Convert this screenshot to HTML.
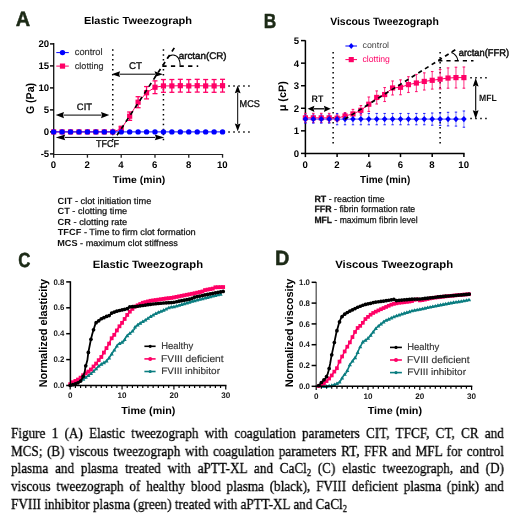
<!DOCTYPE html>
<html><head><meta charset="utf-8"><style>
html,body{margin:0;padding:0;background:#fff;}
body{width:520px;height:517px;position:relative;overflow:hidden;}
svg{position:absolute;left:0;top:0;will-change:transform;}
.cl{position:absolute;left:11.4px;font-family:"Liberation Serif",serif;font-size:15.6px;line-height:15px;color:#000;-webkit-text-stroke:0.3px #000;
transform:scaleX(0.8442307692307692);transform-origin:0 0;white-space:nowrap;will-change:transform;}
.cl.j{width:583.85px;text-align:justify;text-align-last:justify;white-space:normal;}
.cl sub{font-size:10px;line-height:0;vertical-align:-3px;}
</style></head><body>
<svg width="520" height="517" viewBox="0 0 520 517" text-rendering="geometricPrecision">
<text id="L_A" x="15.71" y="26" font-family="Liberation Sans" font-size="20.714" font-weight="bold" fill="#1c2a16" stroke="#1c2a16" stroke-width="0.5" stroke-linejoin="round" textLength="14.407" lengthAdjust="spacingAndGlyphs">A</text>
<text id="A_title" x="83.96" y="24.4" font-family="Liberation Sans" font-size="10.312" font-weight="bold" fill="#000" textLength="108.107" lengthAdjust="spacingAndGlyphs">Elastic Tweezograph</text>
<line x1="112.77" y1="49.15" x2="112.77" y2="141" stroke="#000" stroke-width="1.5" stroke-linecap="butt" stroke-dasharray="1.5 3.48"/>
<line x1="163.44" y1="49.15" x2="163.44" y2="141" stroke="#000" stroke-width="1.5" stroke-linecap="butt" stroke-dasharray="1.5 3.48"/>
<line x1="228.3" y1="85.92" x2="250" y2="85.92" stroke="#000" stroke-width="1.5" stroke-linecap="butt" stroke-dasharray="1.5 3.47"/>
<line x1="228.3" y1="131.9" x2="250" y2="131.9" stroke="#000" stroke-width="1.5" stroke-linecap="butt" stroke-dasharray="1.5 3.47"/>
<line x1="63.5" y1="115.1" x2="101.5" y2="115.1" stroke="#000" stroke-width="1" stroke-linecap="butt"/>
<polygon points="55.7,115.1 64,112 63,115.1 64,118.2" fill="#000"/>
<polygon points="109.3,115.1 101,112 102,115.1 101,118.2" fill="#000"/>
<text id="A_CIT" x="76.86" y="109.8" font-family="Liberation Sans" font-size="9.457" font-weight="normal" fill="#111" stroke="#111" stroke-width="0.35" stroke-linejoin="round" textLength="15.139" lengthAdjust="spacingAndGlyphs">CIT</text>
<line x1="119.6" y1="74.2" x2="155" y2="74.2" stroke="#000" stroke-width="1" stroke-linecap="butt"/>
<polygon points="111.6,74.2 120.1,71.3 119.08,74.2 120.1,77.1" fill="#000"/>
<polygon points="163,74.2 154.5,71.3 155.52,74.2 154.5,77.1" fill="#000"/>
<text id="A_CT" x="128.95" y="68.6" font-family="Liberation Sans" font-size="9.735" font-weight="normal" fill="#111" stroke="#111" stroke-width="0.35" stroke-linejoin="round" textLength="13.100" lengthAdjust="spacingAndGlyphs">CT</text>
<line x1="64.7" y1="137.4" x2="155.3" y2="137.4" stroke="#000" stroke-width="1" stroke-linecap="butt"/>
<polygon points="55.7,137.4 65.2,134.6 64.06,137.4 65.2,140.2" fill="#000"/>
<polygon points="164.3,137.4 154.8,134.6 155.94,137.4 154.8,140.2" fill="#000"/>
<text id="A_TFCF" x="96.1" y="147.4" font-family="Liberation Sans" font-size="9.947" font-weight="normal" fill="#111" stroke="#111" stroke-width="0.35" stroke-linejoin="round" textLength="22.850" lengthAdjust="spacingAndGlyphs">TFCF</text>
<line x1="237.7" y1="92.7" x2="237.7" y2="124.1" stroke="#000" stroke-width="1" stroke-linecap="butt"/>
<polygon points="237.7,85.6 234.8,93.2 237.7,92.29 240.6,93.2" fill="#000"/>
<polygon points="237.7,131.2 234.8,123.6 237.7,124.51 240.6,123.6" fill="#000"/>
<text id="A_MCS" x="239.6" y="107.2" font-family="Liberation Sans" font-size="9.802" font-weight="normal" fill="#111" stroke="#111" stroke-width="0.35" stroke-linejoin="round" textLength="20.250" lengthAdjust="spacingAndGlyphs">MCS</text>
<line x1="53.7" y1="43" x2="53.7" y2="155" stroke="#111" stroke-width="1.3" stroke-linecap="butt"/>
<line x1="53.1" y1="154.45" x2="223.15" y2="154.45" stroke="#222" stroke-width="1.15" stroke-linecap="butt"/>
<line x1="50" y1="43.9" x2="53.65" y2="43.9" stroke="#000" stroke-width="1.4" stroke-linecap="butt"/>
<text x="49.2" y="47.3" font-family="Liberation Sans" font-size="9.6" font-weight="bold" fill="#000" text-anchor="end">20</text>
<line x1="50" y1="65.9" x2="53.65" y2="65.9" stroke="#000" stroke-width="1.4" stroke-linecap="butt"/>
<text x="49.2" y="69.3" font-family="Liberation Sans" font-size="9.6" font-weight="bold" fill="#000" text-anchor="end">15</text>
<line x1="50" y1="87.9" x2="53.65" y2="87.9" stroke="#000" stroke-width="1.4" stroke-linecap="butt"/>
<text x="49.2" y="91.3" font-family="Liberation Sans" font-size="9.6" font-weight="bold" fill="#000" text-anchor="end">10</text>
<line x1="50" y1="109.9" x2="53.65" y2="109.9" stroke="#000" stroke-width="1.4" stroke-linecap="butt"/>
<text x="49.2" y="113.3" font-family="Liberation Sans" font-size="9.6" font-weight="bold" fill="#000" text-anchor="end">5</text>
<line x1="50" y1="131.9" x2="53.65" y2="131.9" stroke="#000" stroke-width="1.4" stroke-linecap="butt"/>
<text x="49.2" y="135.3" font-family="Liberation Sans" font-size="9.6" font-weight="bold" fill="#000" text-anchor="end">0</text>
<line x1="50" y1="153.9" x2="53.65" y2="153.9" stroke="#000" stroke-width="1.4" stroke-linecap="butt"/>
<text x="49.2" y="157.3" font-family="Liberation Sans" font-size="9.6" font-weight="bold" fill="#000" text-anchor="end">-5</text>
<line x1="53.65" y1="154.45" x2="53.65" y2="157.7" stroke="#222" stroke-width="1.3" stroke-linecap="butt"/>
<text x="53.45" y="167.9" font-family="Liberation Sans" font-size="9.6" font-weight="bold" fill="#000" text-anchor="middle">0</text>
<line x1="87.43" y1="154.45" x2="87.43" y2="157.7" stroke="#222" stroke-width="1.3" stroke-linecap="butt"/>
<text x="87.23" y="167.9" font-family="Liberation Sans" font-size="9.6" font-weight="bold" fill="#000" text-anchor="middle">2</text>
<line x1="121.21" y1="154.45" x2="121.21" y2="157.7" stroke="#222" stroke-width="1.3" stroke-linecap="butt"/>
<text x="121.01" y="167.9" font-family="Liberation Sans" font-size="9.6" font-weight="bold" fill="#000" text-anchor="middle">4</text>
<line x1="154.99" y1="154.45" x2="154.99" y2="157.7" stroke="#222" stroke-width="1.3" stroke-linecap="butt"/>
<text x="154.79" y="167.9" font-family="Liberation Sans" font-size="9.6" font-weight="bold" fill="#000" text-anchor="middle">6</text>
<line x1="188.77" y1="154.45" x2="188.77" y2="157.7" stroke="#222" stroke-width="1.3" stroke-linecap="butt"/>
<text x="188.57" y="167.9" font-family="Liberation Sans" font-size="9.6" font-weight="bold" fill="#000" text-anchor="middle">8</text>
<line x1="222.55" y1="154.45" x2="222.55" y2="157.7" stroke="#222" stroke-width="1.3" stroke-linecap="butt"/>
<text x="222.35" y="167.9" font-family="Liberation Sans" font-size="9.6" font-weight="bold" fill="#000" text-anchor="middle">10</text>
<text id="A_time" x="112.73" y="182.5" font-family="Liberation Sans" font-size="10.012" font-weight="bold" fill="#000" textLength="52.579" lengthAdjust="spacingAndGlyphs">Time (min)</text>
<text id="A_ylab" x="33.71" y="114.11" transform="rotate(-90 33.71 114.11)" font-family="Liberation Sans" font-size="11.355" font-weight="bold" fill="#000" textLength="31.178" lengthAdjust="spacingAndGlyphs">G (Pa)</text>
<polyline points="53.65,131.9 62.09,131.9 70.54,131.9 78.98,131.9 87.43,131.9 95.88,131.9 104.32,131.9 112.77,131.9 121.21,128.91 129.66,116.19 138.1,102.2 146.55,92.74 154.99,87.24 163.44,85.92 171.88,85.92 180.33,85.7 188.77,85.92 197.22,85.7 205.66,85.92 214.11,85.92 222.55,85.7" fill="none" stroke="#ff0066" stroke-width="1" stroke-linejoin="round"/>
<rect x="51.05" y="129.3" width="5.2" height="5.2" fill="#ff0066"/>
<rect x="59.49" y="129.3" width="5.2" height="5.2" fill="#ff0066"/>
<rect x="67.94" y="129.3" width="5.2" height="5.2" fill="#ff0066"/>
<rect x="76.39" y="129.3" width="5.2" height="5.2" fill="#ff0066"/>
<rect x="84.83" y="129.3" width="5.2" height="5.2" fill="#ff0066"/>
<rect x="93.28" y="129.3" width="5.2" height="5.2" fill="#ff0066"/>
<rect x="101.72" y="129.3" width="5.2" height="5.2" fill="#ff0066"/>
<rect x="110.17" y="129.3" width="5.2" height="5.2" fill="#ff0066"/>
<line x1="121.21" y1="126.27" x2="121.21" y2="131.55" stroke="#ff0066" stroke-width="1.3" stroke-linecap="butt"/>
<line x1="118.71" y1="126.27" x2="123.71" y2="126.27" stroke="#ff0066" stroke-width="1.3" stroke-linecap="butt"/>
<line x1="118.71" y1="131.55" x2="123.71" y2="131.55" stroke="#ff0066" stroke-width="1.3" stroke-linecap="butt"/>
<rect x="118.61" y="126.31" width="5.2" height="5.2" fill="#ff0066"/>
<line x1="129.66" y1="112.01" x2="129.66" y2="120.37" stroke="#ff0066" stroke-width="1.3" stroke-linecap="butt"/>
<line x1="127.16" y1="112.01" x2="132.16" y2="112.01" stroke="#ff0066" stroke-width="1.3" stroke-linecap="butt"/>
<line x1="127.16" y1="120.37" x2="132.16" y2="120.37" stroke="#ff0066" stroke-width="1.3" stroke-linecap="butt"/>
<rect x="127.06" y="113.59" width="5.2" height="5.2" fill="#ff0066"/>
<line x1="138.1" y1="96.7" x2="138.1" y2="107.7" stroke="#ff0066" stroke-width="1.3" stroke-linecap="butt"/>
<line x1="135.6" y1="96.7" x2="140.6" y2="96.7" stroke="#ff0066" stroke-width="1.3" stroke-linecap="butt"/>
<line x1="135.6" y1="107.7" x2="140.6" y2="107.7" stroke="#ff0066" stroke-width="1.3" stroke-linecap="butt"/>
<rect x="135.5" y="99.6" width="5.2" height="5.2" fill="#ff0066"/>
<line x1="146.55" y1="86.58" x2="146.55" y2="98.9" stroke="#ff0066" stroke-width="1.3" stroke-linecap="butt"/>
<line x1="144.05" y1="86.58" x2="149.05" y2="86.58" stroke="#ff0066" stroke-width="1.3" stroke-linecap="butt"/>
<line x1="144.05" y1="98.9" x2="149.05" y2="98.9" stroke="#ff0066" stroke-width="1.3" stroke-linecap="butt"/>
<rect x="143.95" y="90.14" width="5.2" height="5.2" fill="#ff0066"/>
<line x1="154.99" y1="80.86" x2="154.99" y2="93.62" stroke="#ff0066" stroke-width="1.3" stroke-linecap="butt"/>
<line x1="152.49" y1="80.86" x2="157.49" y2="80.86" stroke="#ff0066" stroke-width="1.3" stroke-linecap="butt"/>
<line x1="152.49" y1="93.62" x2="157.49" y2="93.62" stroke="#ff0066" stroke-width="1.3" stroke-linecap="butt"/>
<rect x="152.39" y="84.64" width="5.2" height="5.2" fill="#ff0066"/>
<line x1="163.44" y1="79.54" x2="163.44" y2="92.3" stroke="#ff0066" stroke-width="1.3" stroke-linecap="butt"/>
<line x1="160.94" y1="79.54" x2="165.94" y2="79.54" stroke="#ff0066" stroke-width="1.3" stroke-linecap="butt"/>
<line x1="160.94" y1="92.3" x2="165.94" y2="92.3" stroke="#ff0066" stroke-width="1.3" stroke-linecap="butt"/>
<rect x="160.84" y="83.32" width="5.2" height="5.2" fill="#ff0066"/>
<line x1="171.88" y1="79.54" x2="171.88" y2="92.3" stroke="#ff0066" stroke-width="1.3" stroke-linecap="butt"/>
<line x1="169.38" y1="79.54" x2="174.38" y2="79.54" stroke="#ff0066" stroke-width="1.3" stroke-linecap="butt"/>
<line x1="169.38" y1="92.3" x2="174.38" y2="92.3" stroke="#ff0066" stroke-width="1.3" stroke-linecap="butt"/>
<rect x="169.28" y="83.32" width="5.2" height="5.2" fill="#ff0066"/>
<line x1="180.33" y1="79.32" x2="180.33" y2="92.08" stroke="#ff0066" stroke-width="1.3" stroke-linecap="butt"/>
<line x1="177.83" y1="79.32" x2="182.83" y2="79.32" stroke="#ff0066" stroke-width="1.3" stroke-linecap="butt"/>
<line x1="177.83" y1="92.08" x2="182.83" y2="92.08" stroke="#ff0066" stroke-width="1.3" stroke-linecap="butt"/>
<rect x="177.73" y="83.1" width="5.2" height="5.2" fill="#ff0066"/>
<line x1="188.77" y1="79.54" x2="188.77" y2="92.3" stroke="#ff0066" stroke-width="1.3" stroke-linecap="butt"/>
<line x1="186.27" y1="79.54" x2="191.27" y2="79.54" stroke="#ff0066" stroke-width="1.3" stroke-linecap="butt"/>
<line x1="186.27" y1="92.3" x2="191.27" y2="92.3" stroke="#ff0066" stroke-width="1.3" stroke-linecap="butt"/>
<rect x="186.17" y="83.32" width="5.2" height="5.2" fill="#ff0066"/>
<line x1="197.22" y1="79.32" x2="197.22" y2="92.08" stroke="#ff0066" stroke-width="1.3" stroke-linecap="butt"/>
<line x1="194.72" y1="79.32" x2="199.72" y2="79.32" stroke="#ff0066" stroke-width="1.3" stroke-linecap="butt"/>
<line x1="194.72" y1="92.08" x2="199.72" y2="92.08" stroke="#ff0066" stroke-width="1.3" stroke-linecap="butt"/>
<rect x="194.62" y="83.1" width="5.2" height="5.2" fill="#ff0066"/>
<line x1="205.66" y1="79.54" x2="205.66" y2="92.3" stroke="#ff0066" stroke-width="1.3" stroke-linecap="butt"/>
<line x1="203.16" y1="79.54" x2="208.16" y2="79.54" stroke="#ff0066" stroke-width="1.3" stroke-linecap="butt"/>
<line x1="203.16" y1="92.3" x2="208.16" y2="92.3" stroke="#ff0066" stroke-width="1.3" stroke-linecap="butt"/>
<rect x="203.06" y="83.32" width="5.2" height="5.2" fill="#ff0066"/>
<line x1="214.11" y1="79.54" x2="214.11" y2="92.3" stroke="#ff0066" stroke-width="1.3" stroke-linecap="butt"/>
<line x1="211.61" y1="79.54" x2="216.61" y2="79.54" stroke="#ff0066" stroke-width="1.3" stroke-linecap="butt"/>
<line x1="211.61" y1="92.3" x2="216.61" y2="92.3" stroke="#ff0066" stroke-width="1.3" stroke-linecap="butt"/>
<rect x="211.51" y="83.32" width="5.2" height="5.2" fill="#ff0066"/>
<line x1="222.55" y1="79.32" x2="222.55" y2="92.08" stroke="#ff0066" stroke-width="1.3" stroke-linecap="butt"/>
<line x1="220.05" y1="79.32" x2="225.05" y2="79.32" stroke="#ff0066" stroke-width="1.3" stroke-linecap="butt"/>
<line x1="220.05" y1="92.08" x2="225.05" y2="92.08" stroke="#ff0066" stroke-width="1.3" stroke-linecap="butt"/>
<rect x="219.95" y="83.1" width="5.2" height="5.2" fill="#ff0066"/>
<polyline points="53.65,131.9 62.09,131.9 70.54,131.9 78.98,131.9 87.43,131.9 95.88,131.9 104.32,131.9 112.77,131.9 121.21,131.9 129.66,131.9 138.1,131.9 146.55,131.9 154.99,131.9 163.44,131.9 171.88,131.9 180.33,131.9 188.77,131.9 197.22,131.9 205.66,131.9 214.11,131.9 222.55,131.9" fill="none" stroke="#0000ff" stroke-width="1" stroke-linejoin="round"/>
<circle cx="53.65" cy="131.9" r="2.7" fill="#0000ff"/>
<circle cx="62.09" cy="131.9" r="2.7" fill="#0000ff"/>
<circle cx="70.54" cy="131.9" r="2.7" fill="#0000ff"/>
<circle cx="78.98" cy="131.9" r="2.7" fill="#0000ff"/>
<circle cx="87.43" cy="131.9" r="2.7" fill="#0000ff"/>
<circle cx="95.88" cy="131.9" r="2.7" fill="#0000ff"/>
<circle cx="104.32" cy="131.9" r="2.7" fill="#0000ff"/>
<circle cx="112.77" cy="131.9" r="2.7" fill="#0000ff"/>
<circle cx="121.21" cy="131.9" r="2.7" fill="#0000ff"/>
<circle cx="129.66" cy="131.9" r="2.7" fill="#0000ff"/>
<circle cx="138.1" cy="131.9" r="2.7" fill="#0000ff"/>
<circle cx="146.55" cy="131.9" r="2.7" fill="#0000ff"/>
<circle cx="154.99" cy="131.9" r="2.7" fill="#0000ff"/>
<circle cx="163.44" cy="131.9" r="2.7" fill="#0000ff"/>
<circle cx="171.88" cy="131.9" r="2.7" fill="#0000ff"/>
<circle cx="180.33" cy="131.9" r="2.7" fill="#0000ff"/>
<circle cx="188.77" cy="131.9" r="2.7" fill="#0000ff"/>
<circle cx="197.22" cy="131.9" r="2.7" fill="#0000ff"/>
<circle cx="205.66" cy="131.9" r="2.7" fill="#0000ff"/>
<circle cx="214.11" cy="131.9" r="2.7" fill="#0000ff"/>
<circle cx="222.55" cy="131.9" r="2.7" fill="#0000ff"/>
<line x1="174.3" y1="47.9" x2="117" y2="135.3" stroke="#000" stroke-width="1.7" stroke-linecap="butt" stroke-dasharray="4.3 4.1"/>
<line x1="162.3" y1="66.1" x2="198.2" y2="66.1" stroke="#000" stroke-width="1.6" stroke-linecap="butt" stroke-dasharray="4.3 4.3"/>
<path d="M167.0,58.6 C169.5,54.3 175.5,53.3 178.5,58.3 C179.8,60.5 180.2,63 180.2,65.6" fill="none" stroke="#000" stroke-width="1.1"/>
<text id="A_arctan" x="178.8" y="58.5" font-family="Liberation Sans" font-size="9.600" font-weight="normal" fill="#111" stroke="#111" stroke-width="0.45" stroke-linejoin="round" textLength="47.800" lengthAdjust="spacingAndGlyphs">arctan(CR)</text>
<line x1="56.3" y1="52.6" x2="68.8" y2="52.6" stroke="#0000ff" stroke-width="1" stroke-linecap="butt"/>
<circle cx="62.5" cy="52.6" r="2.7" fill="#0000ff"/>
<text id="A_control" x="74.77" y="55.4" font-family="Liberation Sans" font-size="9.374" font-weight="normal" fill="#333" stroke="#333" stroke-width="0.2" stroke-linejoin="round" textLength="27.716" lengthAdjust="spacingAndGlyphs">control</text>
<line x1="56.3" y1="66.1" x2="68.8" y2="66.1" stroke="#ff0066" stroke-width="1" stroke-linecap="butt"/>
<rect x="59.9" y="63.5" width="5.2" height="5.2" fill="#ff0066"/>
<text id="A_clotting" x="74.77" y="68.5" font-family="Liberation Sans" font-size="9.104" font-weight="normal" fill="#333" stroke="#333" stroke-width="0.2" stroke-linejoin="round" textLength="28.916" lengthAdjust="spacingAndGlyphs">clotting</text>
<text id="A_desc0" x="57.48" y="204" font-family="Liberation Sans" font-size="9.030" font-weight="normal" fill="#111" stroke="#111" stroke-width="0.25" stroke-linejoin="round" textLength="93.804" lengthAdjust="spacingAndGlyphs"><tspan font-weight="bold" stroke-width="0">CIT</tspan> - clot initiation time</text>
<text id="A_desc1" x="57.48" y="214.4" font-family="Liberation Sans" font-size="8.949" font-weight="normal" fill="#111" stroke="#111" stroke-width="0.25" stroke-linejoin="round" textLength="69.754" lengthAdjust="spacingAndGlyphs"><tspan font-weight="bold" stroke-width="0">CT</tspan> - clotting time</text>
<text id="A_desc2" x="57.48" y="224.8" font-family="Liberation Sans" font-size="8.892" font-weight="normal" fill="#111" stroke="#111" stroke-width="0.25" stroke-linejoin="round" textLength="69.754" lengthAdjust="spacingAndGlyphs"><tspan font-weight="bold" stroke-width="0">CR</tspan> - clotting rate</text>
<text id="A_desc3" x="57.73" y="235.2" font-family="Liberation Sans" font-size="8.823" font-weight="normal" fill="#111" stroke="#111" stroke-width="0.25" stroke-linejoin="round" textLength="138.004" lengthAdjust="spacingAndGlyphs"><tspan font-weight="bold" stroke-width="0">TFCF</tspan> - Time to firm clot formation</text>
<text id="A_desc4" x="57.23" y="245.6" font-family="Liberation Sans" font-size="8.753" font-weight="normal" fill="#111" stroke="#111" stroke-width="0.25" stroke-linejoin="round" textLength="120.704" lengthAdjust="spacingAndGlyphs"><tspan font-weight="bold" stroke-width="0">MCS</tspan> - maximum clot stiffness</text>
<text id="L_B" x="263.73" y="28.1" font-family="Liberation Sans" font-size="20.500" font-weight="bold" fill="#1c2a16" stroke="#1c2a16" stroke-width="0.5" stroke-linejoin="round" textLength="12.490" lengthAdjust="spacingAndGlyphs">B</text>
<text id="B_title" x="330.2" y="25" font-family="Liberation Sans" font-size="10.725" font-weight="bold" fill="#000" textLength="108.686" lengthAdjust="spacingAndGlyphs">Viscous Tweezograph</text>
<line x1="333.14" y1="51.95" x2="333.14" y2="144" stroke="#000" stroke-width="1.5" stroke-linecap="butt" stroke-dasharray="1.5 3.5"/>
<line x1="440.12" y1="51.95" x2="440.12" y2="144" stroke="#000" stroke-width="1.5" stroke-linecap="butt" stroke-dasharray="1.5 3.5"/>
<line x1="470.3" y1="77.7" x2="487" y2="77.7" stroke="#000" stroke-width="1.5" stroke-linecap="butt" stroke-dasharray="1.5 3.47"/>
<line x1="470.3" y1="118.6" x2="487" y2="118.6" stroke="#000" stroke-width="1.5" stroke-linecap="butt" stroke-dasharray="1.5 3.47"/>
<line x1="313.9" y1="108.8" x2="324.4" y2="108.8" stroke="#000" stroke-width="1.3" stroke-linecap="butt"/>
<polygon points="307.6,108.8 314.4,105.7 313.58,108.8 314.4,111.9" fill="#000"/>
<polygon points="330.7,108.8 323.9,105.7 324.72,108.8 323.9,111.9" fill="#000"/>
<text id="B_RT" x="311.58" y="102" font-family="Liberation Sans" font-size="9.377" font-weight="bold" fill="#111" textLength="11.804" lengthAdjust="spacingAndGlyphs">RT</text>
<line x1="475.7" y1="86" x2="475.7" y2="110.8" stroke="#000" stroke-width="1.1" stroke-linecap="butt"/>
<polygon points="475.7,77.9 472.8,86.5 475.7,85.47 478.6,86.5" fill="#000"/>
<polygon points="475.7,118.9 472.8,110.3 475.7,111.33 478.6,110.3" fill="#000"/>
<text id="B_MFL" x="479.04" y="100.75" font-family="Liberation Sans" font-size="9.286" font-weight="bold" fill="#111" textLength="17.743" lengthAdjust="spacingAndGlyphs">MFL</text>
<line x1="305.4" y1="40.3" x2="305.4" y2="154.1" stroke="#000" stroke-width="1.5" stroke-linecap="butt"/>
<line x1="304.7" y1="153.4" x2="464.6" y2="153.4" stroke="#000" stroke-width="1.5" stroke-linecap="butt"/>
<line x1="301" y1="153.4" x2="305.4" y2="153.4" stroke="#000" stroke-width="1.5" stroke-linecap="butt"/>
<text x="299.2" y="156.8" font-family="Liberation Sans" font-size="9.6" font-weight="bold" fill="#000" text-anchor="end">0</text>
<line x1="301" y1="130.84" x2="305.4" y2="130.84" stroke="#000" stroke-width="1.5" stroke-linecap="butt"/>
<text x="299.2" y="134.24" font-family="Liberation Sans" font-size="9.6" font-weight="bold" fill="#000" text-anchor="end">1</text>
<line x1="301" y1="108.28" x2="305.4" y2="108.28" stroke="#000" stroke-width="1.5" stroke-linecap="butt"/>
<text x="299.2" y="111.68" font-family="Liberation Sans" font-size="9.6" font-weight="bold" fill="#000" text-anchor="end">2</text>
<line x1="301" y1="85.72" x2="305.4" y2="85.72" stroke="#000" stroke-width="1.5" stroke-linecap="butt"/>
<text x="299.2" y="89.12" font-family="Liberation Sans" font-size="9.6" font-weight="bold" fill="#000" text-anchor="end">3</text>
<line x1="301" y1="63.16" x2="305.4" y2="63.16" stroke="#000" stroke-width="1.5" stroke-linecap="butt"/>
<text x="299.2" y="66.56" font-family="Liberation Sans" font-size="9.6" font-weight="bold" fill="#000" text-anchor="end">4</text>
<line x1="301" y1="40.6" x2="305.4" y2="40.6" stroke="#000" stroke-width="1.5" stroke-linecap="butt"/>
<text x="299.2" y="44" font-family="Liberation Sans" font-size="9.6" font-weight="bold" fill="#000" text-anchor="end">5</text>
<line x1="305.4" y1="153.4" x2="305.4" y2="157.1" stroke="#000" stroke-width="1.5" stroke-linecap="butt"/>
<text x="305.2" y="167.8" font-family="Liberation Sans" font-size="9.6" font-weight="bold" fill="#000" text-anchor="middle">0</text>
<line x1="337.1" y1="153.4" x2="337.1" y2="157.1" stroke="#000" stroke-width="1.5" stroke-linecap="butt"/>
<text x="336.9" y="167.8" font-family="Liberation Sans" font-size="9.6" font-weight="bold" fill="#000" text-anchor="middle">2</text>
<line x1="368.8" y1="153.4" x2="368.8" y2="157.1" stroke="#000" stroke-width="1.5" stroke-linecap="butt"/>
<text x="368.6" y="167.8" font-family="Liberation Sans" font-size="9.6" font-weight="bold" fill="#000" text-anchor="middle">4</text>
<line x1="400.5" y1="153.4" x2="400.5" y2="157.1" stroke="#000" stroke-width="1.5" stroke-linecap="butt"/>
<text x="400.3" y="167.8" font-family="Liberation Sans" font-size="9.6" font-weight="bold" fill="#000" text-anchor="middle">6</text>
<line x1="432.2" y1="153.4" x2="432.2" y2="157.1" stroke="#000" stroke-width="1.5" stroke-linecap="butt"/>
<text x="432" y="167.8" font-family="Liberation Sans" font-size="9.6" font-weight="bold" fill="#000" text-anchor="middle">8</text>
<line x1="463.9" y1="153.4" x2="463.9" y2="157.1" stroke="#000" stroke-width="1.5" stroke-linecap="butt"/>
<text x="463.7" y="167.8" font-family="Liberation Sans" font-size="9.6" font-weight="bold" fill="#000" text-anchor="middle">10</text>
<text id="B_time" x="360.06" y="183" font-family="Liberation Sans" font-size="10.369" font-weight="bold" fill="#000" textLength="50.157" lengthAdjust="spacingAndGlyphs">Time (min)</text>
<text id="B_ylab" x="285.72" y="111.34" transform="rotate(-90 285.72 111.34)" font-family="Liberation Sans" font-size="10.804" font-weight="bold" fill="#000" textLength="30.224" lengthAdjust="spacingAndGlyphs">μ (cP)</text>
<polyline points="305.4,119.11 313.32,119.11 321.25,119.11 329.17,119.11 337.1,119.11 345.02,119.11 352.95,119.11 360.88,119.11 368.8,119.11 376.72,119.11 384.65,119.11 392.57,119.11 400.5,119.11 408.42,119.11 416.35,119.11 424.27,119.11 432.2,119.11 440.12,119.11 448.05,119.11 455.97,119.11 463.9,119.11" fill="none" stroke="#0000ff" stroke-width="0.9" stroke-linejoin="round" stroke-opacity="0.8"/>
<line x1="305.4" y1="113.36" x2="305.4" y2="122.38" stroke="#ff0066" stroke-width="1" stroke-linecap="butt" stroke-opacity="0.8"/>
<line x1="304.1" y1="113.36" x2="306.7" y2="113.36" stroke="#ff0066" stroke-width="1.1" stroke-linecap="butt" stroke-opacity="0.9"/>
<line x1="304.1" y1="122.38" x2="306.7" y2="122.38" stroke="#ff0066" stroke-width="1.1" stroke-linecap="butt" stroke-opacity="0.9"/>
<line x1="313.32" y1="113.36" x2="313.32" y2="122.38" stroke="#ff0066" stroke-width="1" stroke-linecap="butt" stroke-opacity="0.8"/>
<line x1="312.02" y1="113.36" x2="314.62" y2="113.36" stroke="#ff0066" stroke-width="1.1" stroke-linecap="butt" stroke-opacity="0.9"/>
<line x1="312.02" y1="122.38" x2="314.62" y2="122.38" stroke="#ff0066" stroke-width="1.1" stroke-linecap="butt" stroke-opacity="0.9"/>
<line x1="321.25" y1="113.36" x2="321.25" y2="122.38" stroke="#ff0066" stroke-width="1" stroke-linecap="butt" stroke-opacity="0.8"/>
<line x1="319.95" y1="113.36" x2="322.55" y2="113.36" stroke="#ff0066" stroke-width="1.1" stroke-linecap="butt" stroke-opacity="0.9"/>
<line x1="319.95" y1="122.38" x2="322.55" y2="122.38" stroke="#ff0066" stroke-width="1.1" stroke-linecap="butt" stroke-opacity="0.9"/>
<line x1="329.17" y1="113.36" x2="329.17" y2="122.38" stroke="#ff0066" stroke-width="1" stroke-linecap="butt" stroke-opacity="0.8"/>
<line x1="327.87" y1="113.36" x2="330.47" y2="113.36" stroke="#ff0066" stroke-width="1.1" stroke-linecap="butt" stroke-opacity="0.9"/>
<line x1="327.87" y1="122.38" x2="330.47" y2="122.38" stroke="#ff0066" stroke-width="1.1" stroke-linecap="butt" stroke-opacity="0.9"/>
<line x1="337.1" y1="114.82" x2="337.1" y2="121.59" stroke="#ff0066" stroke-width="1" stroke-linecap="butt" stroke-opacity="0.8"/>
<line x1="335.8" y1="114.82" x2="338.4" y2="114.82" stroke="#ff0066" stroke-width="1.1" stroke-linecap="butt" stroke-opacity="0.9"/>
<line x1="335.8" y1="121.59" x2="338.4" y2="121.59" stroke="#ff0066" stroke-width="1.1" stroke-linecap="butt" stroke-opacity="0.9"/>
<line x1="345.02" y1="112.57" x2="345.02" y2="119.33" stroke="#ff0066" stroke-width="1" stroke-linecap="butt" stroke-opacity="0.8"/>
<line x1="343.72" y1="112.57" x2="346.32" y2="112.57" stroke="#ff0066" stroke-width="1.1" stroke-linecap="butt" stroke-opacity="0.9"/>
<line x1="343.72" y1="119.33" x2="346.32" y2="119.33" stroke="#ff0066" stroke-width="1.1" stroke-linecap="butt" stroke-opacity="0.9"/>
<line x1="305.4" y1="115.05" x2="305.4" y2="123.17" stroke="#0000ff" stroke-width="0.9" stroke-linecap="butt" stroke-opacity="0.5"/>
<line x1="304.2" y1="115.05" x2="306.6" y2="115.05" stroke="#0000ff" stroke-width="1.1" stroke-linecap="butt" stroke-opacity="0.8"/>
<line x1="304.2" y1="123.17" x2="306.6" y2="123.17" stroke="#0000ff" stroke-width="1.1" stroke-linecap="butt" stroke-opacity="0.8"/>
<line x1="313.32" y1="115.05" x2="313.32" y2="123.17" stroke="#0000ff" stroke-width="0.9" stroke-linecap="butt" stroke-opacity="0.5"/>
<line x1="312.12" y1="115.05" x2="314.52" y2="115.05" stroke="#0000ff" stroke-width="1.1" stroke-linecap="butt" stroke-opacity="0.8"/>
<line x1="312.12" y1="123.17" x2="314.52" y2="123.17" stroke="#0000ff" stroke-width="1.1" stroke-linecap="butt" stroke-opacity="0.8"/>
<line x1="321.25" y1="115.05" x2="321.25" y2="123.17" stroke="#0000ff" stroke-width="0.9" stroke-linecap="butt" stroke-opacity="0.5"/>
<line x1="320.05" y1="115.05" x2="322.45" y2="115.05" stroke="#0000ff" stroke-width="1.1" stroke-linecap="butt" stroke-opacity="0.8"/>
<line x1="320.05" y1="123.17" x2="322.45" y2="123.17" stroke="#0000ff" stroke-width="1.1" stroke-linecap="butt" stroke-opacity="0.8"/>
<line x1="329.17" y1="115.05" x2="329.17" y2="123.17" stroke="#0000ff" stroke-width="0.9" stroke-linecap="butt" stroke-opacity="0.5"/>
<line x1="327.97" y1="115.05" x2="330.37" y2="115.05" stroke="#0000ff" stroke-width="1.1" stroke-linecap="butt" stroke-opacity="0.8"/>
<line x1="327.97" y1="123.17" x2="330.37" y2="123.17" stroke="#0000ff" stroke-width="1.1" stroke-linecap="butt" stroke-opacity="0.8"/>
<line x1="337.1" y1="113.47" x2="337.1" y2="124.75" stroke="#0000ff" stroke-width="0.9" stroke-linecap="butt" stroke-opacity="0.5"/>
<line x1="335.9" y1="113.47" x2="338.3" y2="113.47" stroke="#0000ff" stroke-width="1.1" stroke-linecap="butt" stroke-opacity="0.8"/>
<line x1="335.9" y1="124.75" x2="338.3" y2="124.75" stroke="#0000ff" stroke-width="1.1" stroke-linecap="butt" stroke-opacity="0.8"/>
<line x1="345.02" y1="113.47" x2="345.02" y2="124.75" stroke="#0000ff" stroke-width="0.9" stroke-linecap="butt" stroke-opacity="0.5"/>
<line x1="343.82" y1="113.47" x2="346.22" y2="113.47" stroke="#0000ff" stroke-width="1.1" stroke-linecap="butt" stroke-opacity="0.8"/>
<line x1="343.82" y1="124.75" x2="346.22" y2="124.75" stroke="#0000ff" stroke-width="1.1" stroke-linecap="butt" stroke-opacity="0.8"/>
<line x1="352.95" y1="113.47" x2="352.95" y2="124.75" stroke="#0000ff" stroke-width="0.9" stroke-linecap="butt" stroke-opacity="0.5"/>
<line x1="351.75" y1="113.47" x2="354.15" y2="113.47" stroke="#0000ff" stroke-width="1.1" stroke-linecap="butt" stroke-opacity="0.8"/>
<line x1="351.75" y1="124.75" x2="354.15" y2="124.75" stroke="#0000ff" stroke-width="1.1" stroke-linecap="butt" stroke-opacity="0.8"/>
<line x1="360.88" y1="113.47" x2="360.88" y2="124.75" stroke="#0000ff" stroke-width="0.9" stroke-linecap="butt" stroke-opacity="0.5"/>
<line x1="359.68" y1="113.47" x2="362.07" y2="113.47" stroke="#0000ff" stroke-width="1.1" stroke-linecap="butt" stroke-opacity="0.8"/>
<line x1="359.68" y1="124.75" x2="362.07" y2="124.75" stroke="#0000ff" stroke-width="1.1" stroke-linecap="butt" stroke-opacity="0.8"/>
<line x1="368.8" y1="113.47" x2="368.8" y2="124.75" stroke="#0000ff" stroke-width="0.9" stroke-linecap="butt" stroke-opacity="0.5"/>
<line x1="367.6" y1="113.47" x2="370" y2="113.47" stroke="#0000ff" stroke-width="1.1" stroke-linecap="butt" stroke-opacity="0.8"/>
<line x1="367.6" y1="124.75" x2="370" y2="124.75" stroke="#0000ff" stroke-width="1.1" stroke-linecap="butt" stroke-opacity="0.8"/>
<line x1="376.72" y1="113.47" x2="376.72" y2="124.75" stroke="#0000ff" stroke-width="0.9" stroke-linecap="butt" stroke-opacity="0.5"/>
<line x1="375.52" y1="113.47" x2="377.92" y2="113.47" stroke="#0000ff" stroke-width="1.1" stroke-linecap="butt" stroke-opacity="0.8"/>
<line x1="375.52" y1="124.75" x2="377.92" y2="124.75" stroke="#0000ff" stroke-width="1.1" stroke-linecap="butt" stroke-opacity="0.8"/>
<line x1="384.65" y1="113.47" x2="384.65" y2="124.75" stroke="#0000ff" stroke-width="0.9" stroke-linecap="butt" stroke-opacity="0.5"/>
<line x1="383.45" y1="113.47" x2="385.85" y2="113.47" stroke="#0000ff" stroke-width="1.1" stroke-linecap="butt" stroke-opacity="0.8"/>
<line x1="383.45" y1="124.75" x2="385.85" y2="124.75" stroke="#0000ff" stroke-width="1.1" stroke-linecap="butt" stroke-opacity="0.8"/>
<line x1="392.57" y1="113.47" x2="392.57" y2="124.75" stroke="#0000ff" stroke-width="0.9" stroke-linecap="butt" stroke-opacity="0.5"/>
<line x1="391.38" y1="113.47" x2="393.77" y2="113.47" stroke="#0000ff" stroke-width="1.1" stroke-linecap="butt" stroke-opacity="0.8"/>
<line x1="391.38" y1="124.75" x2="393.77" y2="124.75" stroke="#0000ff" stroke-width="1.1" stroke-linecap="butt" stroke-opacity="0.8"/>
<line x1="400.5" y1="113.47" x2="400.5" y2="124.75" stroke="#0000ff" stroke-width="0.9" stroke-linecap="butt" stroke-opacity="0.5"/>
<line x1="399.3" y1="113.47" x2="401.7" y2="113.47" stroke="#0000ff" stroke-width="1.1" stroke-linecap="butt" stroke-opacity="0.8"/>
<line x1="399.3" y1="124.75" x2="401.7" y2="124.75" stroke="#0000ff" stroke-width="1.1" stroke-linecap="butt" stroke-opacity="0.8"/>
<line x1="408.42" y1="113.47" x2="408.42" y2="124.75" stroke="#0000ff" stroke-width="0.9" stroke-linecap="butt" stroke-opacity="0.5"/>
<line x1="407.22" y1="113.47" x2="409.62" y2="113.47" stroke="#0000ff" stroke-width="1.1" stroke-linecap="butt" stroke-opacity="0.8"/>
<line x1="407.22" y1="124.75" x2="409.62" y2="124.75" stroke="#0000ff" stroke-width="1.1" stroke-linecap="butt" stroke-opacity="0.8"/>
<line x1="416.35" y1="113.47" x2="416.35" y2="124.75" stroke="#0000ff" stroke-width="0.9" stroke-linecap="butt" stroke-opacity="0.5"/>
<line x1="415.15" y1="113.47" x2="417.55" y2="113.47" stroke="#0000ff" stroke-width="1.1" stroke-linecap="butt" stroke-opacity="0.8"/>
<line x1="415.15" y1="124.75" x2="417.55" y2="124.75" stroke="#0000ff" stroke-width="1.1" stroke-linecap="butt" stroke-opacity="0.8"/>
<line x1="424.27" y1="113.47" x2="424.27" y2="124.75" stroke="#0000ff" stroke-width="0.9" stroke-linecap="butt" stroke-opacity="0.5"/>
<line x1="423.07" y1="113.47" x2="425.47" y2="113.47" stroke="#0000ff" stroke-width="1.1" stroke-linecap="butt" stroke-opacity="0.8"/>
<line x1="423.07" y1="124.75" x2="425.47" y2="124.75" stroke="#0000ff" stroke-width="1.1" stroke-linecap="butt" stroke-opacity="0.8"/>
<line x1="432.2" y1="113.02" x2="432.2" y2="125.2" stroke="#0000ff" stroke-width="0.9" stroke-linecap="butt" stroke-opacity="0.5"/>
<line x1="431" y1="113.02" x2="433.4" y2="113.02" stroke="#0000ff" stroke-width="1.1" stroke-linecap="butt" stroke-opacity="0.8"/>
<line x1="431" y1="125.2" x2="433.4" y2="125.2" stroke="#0000ff" stroke-width="1.1" stroke-linecap="butt" stroke-opacity="0.8"/>
<line x1="440.12" y1="112.79" x2="440.12" y2="125.43" stroke="#0000ff" stroke-width="0.9" stroke-linecap="butt" stroke-opacity="0.5"/>
<line x1="438.93" y1="112.79" x2="441.32" y2="112.79" stroke="#0000ff" stroke-width="1.1" stroke-linecap="butt" stroke-opacity="0.8"/>
<line x1="438.93" y1="125.43" x2="441.32" y2="125.43" stroke="#0000ff" stroke-width="1.1" stroke-linecap="butt" stroke-opacity="0.8"/>
<line x1="448.05" y1="112.34" x2="448.05" y2="125.88" stroke="#0000ff" stroke-width="0.9" stroke-linecap="butt" stroke-opacity="0.5"/>
<line x1="446.85" y1="112.34" x2="449.25" y2="112.34" stroke="#0000ff" stroke-width="1.1" stroke-linecap="butt" stroke-opacity="0.8"/>
<line x1="446.85" y1="125.88" x2="449.25" y2="125.88" stroke="#0000ff" stroke-width="1.1" stroke-linecap="butt" stroke-opacity="0.8"/>
<line x1="455.97" y1="112.12" x2="455.97" y2="126.1" stroke="#0000ff" stroke-width="0.9" stroke-linecap="butt" stroke-opacity="0.5"/>
<line x1="454.77" y1="112.12" x2="457.17" y2="112.12" stroke="#0000ff" stroke-width="1.1" stroke-linecap="butt" stroke-opacity="0.8"/>
<line x1="454.77" y1="126.1" x2="457.17" y2="126.1" stroke="#0000ff" stroke-width="1.1" stroke-linecap="butt" stroke-opacity="0.8"/>
<line x1="463.9" y1="110.99" x2="463.9" y2="127.23" stroke="#0000ff" stroke-width="0.9" stroke-linecap="butt" stroke-opacity="0.5"/>
<line x1="462.7" y1="110.99" x2="465.1" y2="110.99" stroke="#0000ff" stroke-width="1.1" stroke-linecap="butt" stroke-opacity="0.8"/>
<line x1="462.7" y1="127.23" x2="465.1" y2="127.23" stroke="#0000ff" stroke-width="1.1" stroke-linecap="butt" stroke-opacity="0.8"/>
<polyline points="305.4,117.87 313.32,117.87 321.25,117.87 329.17,117.87 337.1,118.21 345.02,115.95 352.95,113.92 360.88,110.31 368.8,104.22 376.72,97.45 384.65,94.52 392.57,87.98 400.5,87.3 408.42,84.59 416.35,83.01 424.27,81.43 432.2,80.31 440.12,79.18 448.05,78.05 455.97,77.6 463.9,77.6" fill="none" stroke="#ff0066" stroke-width="1" stroke-linejoin="round"/>
<line x1="352.95" y1="109.41" x2="352.95" y2="118.43" stroke="#ff0066" stroke-width="1" stroke-linecap="butt" stroke-opacity="0.8"/>
<line x1="351.65" y1="109.41" x2="354.25" y2="109.41" stroke="#ff0066" stroke-width="1.1" stroke-linecap="butt" stroke-opacity="0.9"/>
<line x1="351.65" y1="118.43" x2="354.25" y2="118.43" stroke="#ff0066" stroke-width="1.1" stroke-linecap="butt" stroke-opacity="0.9"/>
<line x1="360.88" y1="105.57" x2="360.88" y2="115.05" stroke="#ff0066" stroke-width="1" stroke-linecap="butt" stroke-opacity="0.8"/>
<line x1="359.57" y1="105.57" x2="362.18" y2="105.57" stroke="#ff0066" stroke-width="1.1" stroke-linecap="butt" stroke-opacity="0.9"/>
<line x1="359.57" y1="115.05" x2="362.18" y2="115.05" stroke="#ff0066" stroke-width="1.1" stroke-linecap="butt" stroke-opacity="0.9"/>
<line x1="368.8" y1="97" x2="368.8" y2="111.44" stroke="#ff0066" stroke-width="1" stroke-linecap="butt" stroke-opacity="0.8"/>
<line x1="367.5" y1="97" x2="370.1" y2="97" stroke="#ff0066" stroke-width="1.1" stroke-linecap="butt" stroke-opacity="0.9"/>
<line x1="367.5" y1="111.44" x2="370.1" y2="111.44" stroke="#ff0066" stroke-width="1.1" stroke-linecap="butt" stroke-opacity="0.9"/>
<line x1="376.72" y1="90.91" x2="376.72" y2="103.99" stroke="#ff0066" stroke-width="1" stroke-linecap="butt" stroke-opacity="0.8"/>
<line x1="375.42" y1="90.91" x2="378.02" y2="90.91" stroke="#ff0066" stroke-width="1.1" stroke-linecap="butt" stroke-opacity="0.9"/>
<line x1="375.42" y1="103.99" x2="378.02" y2="103.99" stroke="#ff0066" stroke-width="1.1" stroke-linecap="butt" stroke-opacity="0.9"/>
<line x1="384.65" y1="87.52" x2="384.65" y2="101.51" stroke="#ff0066" stroke-width="1" stroke-linecap="butt" stroke-opacity="0.8"/>
<line x1="383.35" y1="87.52" x2="385.95" y2="87.52" stroke="#ff0066" stroke-width="1.1" stroke-linecap="butt" stroke-opacity="0.9"/>
<line x1="383.35" y1="101.51" x2="385.95" y2="101.51" stroke="#ff0066" stroke-width="1.1" stroke-linecap="butt" stroke-opacity="0.9"/>
<line x1="392.57" y1="80.98" x2="392.57" y2="94.97" stroke="#ff0066" stroke-width="1" stroke-linecap="butt" stroke-opacity="0.8"/>
<line x1="391.27" y1="80.98" x2="393.88" y2="80.98" stroke="#ff0066" stroke-width="1.1" stroke-linecap="butt" stroke-opacity="0.9"/>
<line x1="391.27" y1="94.97" x2="393.88" y2="94.97" stroke="#ff0066" stroke-width="1.1" stroke-linecap="butt" stroke-opacity="0.9"/>
<line x1="400.5" y1="79.85" x2="400.5" y2="94.74" stroke="#ff0066" stroke-width="1" stroke-linecap="butt" stroke-opacity="0.8"/>
<line x1="399.2" y1="79.85" x2="401.8" y2="79.85" stroke="#ff0066" stroke-width="1.1" stroke-linecap="butt" stroke-opacity="0.9"/>
<line x1="399.2" y1="94.74" x2="401.8" y2="94.74" stroke="#ff0066" stroke-width="1.1" stroke-linecap="butt" stroke-opacity="0.9"/>
<line x1="408.42" y1="76.7" x2="408.42" y2="92.49" stroke="#ff0066" stroke-width="1" stroke-linecap="butt" stroke-opacity="0.8"/>
<line x1="407.12" y1="76.7" x2="409.72" y2="76.7" stroke="#ff0066" stroke-width="1.1" stroke-linecap="butt" stroke-opacity="0.9"/>
<line x1="407.12" y1="92.49" x2="409.72" y2="92.49" stroke="#ff0066" stroke-width="1.1" stroke-linecap="butt" stroke-opacity="0.9"/>
<line x1="416.35" y1="74.44" x2="416.35" y2="91.59" stroke="#ff0066" stroke-width="1" stroke-linecap="butt" stroke-opacity="0.8"/>
<line x1="415.05" y1="74.44" x2="417.65" y2="74.44" stroke="#ff0066" stroke-width="1.1" stroke-linecap="butt" stroke-opacity="0.9"/>
<line x1="415.05" y1="91.59" x2="417.65" y2="91.59" stroke="#ff0066" stroke-width="1.1" stroke-linecap="butt" stroke-opacity="0.9"/>
<line x1="424.27" y1="72.86" x2="424.27" y2="90.01" stroke="#ff0066" stroke-width="1" stroke-linecap="butt" stroke-opacity="0.8"/>
<line x1="422.97" y1="72.86" x2="425.57" y2="72.86" stroke="#ff0066" stroke-width="1.1" stroke-linecap="butt" stroke-opacity="0.9"/>
<line x1="422.97" y1="90.01" x2="425.57" y2="90.01" stroke="#ff0066" stroke-width="1.1" stroke-linecap="butt" stroke-opacity="0.9"/>
<line x1="432.2" y1="71.51" x2="432.2" y2="89.1" stroke="#ff0066" stroke-width="1" stroke-linecap="butt" stroke-opacity="0.8"/>
<line x1="430.9" y1="71.51" x2="433.5" y2="71.51" stroke="#ff0066" stroke-width="1.1" stroke-linecap="butt" stroke-opacity="0.9"/>
<line x1="430.9" y1="89.1" x2="433.5" y2="89.1" stroke="#ff0066" stroke-width="1.1" stroke-linecap="butt" stroke-opacity="0.9"/>
<line x1="440.12" y1="69.48" x2="440.12" y2="88.88" stroke="#ff0066" stroke-width="1" stroke-linecap="butt" stroke-opacity="0.8"/>
<line x1="438.82" y1="69.48" x2="441.43" y2="69.48" stroke="#ff0066" stroke-width="1.1" stroke-linecap="butt" stroke-opacity="0.9"/>
<line x1="438.82" y1="88.88" x2="441.43" y2="88.88" stroke="#ff0066" stroke-width="1.1" stroke-linecap="butt" stroke-opacity="0.9"/>
<line x1="448.05" y1="67.9" x2="448.05" y2="88.2" stroke="#ff0066" stroke-width="1" stroke-linecap="butt" stroke-opacity="0.8"/>
<line x1="446.75" y1="67.9" x2="449.35" y2="67.9" stroke="#ff0066" stroke-width="1.1" stroke-linecap="butt" stroke-opacity="0.9"/>
<line x1="446.75" y1="88.2" x2="449.35" y2="88.2" stroke="#ff0066" stroke-width="1.1" stroke-linecap="butt" stroke-opacity="0.9"/>
<line x1="455.97" y1="67.22" x2="455.97" y2="87.98" stroke="#ff0066" stroke-width="1" stroke-linecap="butt" stroke-opacity="0.8"/>
<line x1="454.67" y1="67.22" x2="457.27" y2="67.22" stroke="#ff0066" stroke-width="1.1" stroke-linecap="butt" stroke-opacity="0.9"/>
<line x1="454.67" y1="87.98" x2="457.27" y2="87.98" stroke="#ff0066" stroke-width="1.1" stroke-linecap="butt" stroke-opacity="0.9"/>
<line x1="463.9" y1="67" x2="463.9" y2="88.2" stroke="#ff0066" stroke-width="1" stroke-linecap="butt" stroke-opacity="0.8"/>
<line x1="462.6" y1="67" x2="465.2" y2="67" stroke="#ff0066" stroke-width="1.1" stroke-linecap="butt" stroke-opacity="0.9"/>
<line x1="462.6" y1="88.2" x2="465.2" y2="88.2" stroke="#ff0066" stroke-width="1.1" stroke-linecap="butt" stroke-opacity="0.9"/>
<rect x="302.8" y="115.27" width="5.2" height="5.2" fill="#ff0066"/>
<rect x="310.72" y="115.27" width="5.2" height="5.2" fill="#ff0066"/>
<rect x="318.65" y="115.27" width="5.2" height="5.2" fill="#ff0066"/>
<rect x="326.57" y="115.27" width="5.2" height="5.2" fill="#ff0066"/>
<rect x="334.5" y="115.61" width="5.2" height="5.2" fill="#ff0066"/>
<rect x="342.42" y="113.35" width="5.2" height="5.2" fill="#ff0066"/>
<rect x="350.35" y="111.32" width="5.2" height="5.2" fill="#ff0066"/>
<rect x="358.27" y="107.71" width="5.2" height="5.2" fill="#ff0066"/>
<rect x="366.2" y="101.62" width="5.2" height="5.2" fill="#ff0066"/>
<rect x="374.12" y="94.85" width="5.2" height="5.2" fill="#ff0066"/>
<rect x="382.05" y="91.92" width="5.2" height="5.2" fill="#ff0066"/>
<rect x="389.97" y="85.38" width="5.2" height="5.2" fill="#ff0066"/>
<rect x="397.9" y="84.7" width="5.2" height="5.2" fill="#ff0066"/>
<rect x="405.82" y="81.99" width="5.2" height="5.2" fill="#ff0066"/>
<rect x="413.75" y="80.41" width="5.2" height="5.2" fill="#ff0066"/>
<rect x="421.67" y="78.83" width="5.2" height="5.2" fill="#ff0066"/>
<rect x="429.6" y="77.71" width="5.2" height="5.2" fill="#ff0066"/>
<rect x="437.52" y="76.58" width="5.2" height="5.2" fill="#ff0066"/>
<rect x="445.45" y="75.45" width="5.2" height="5.2" fill="#ff0066"/>
<rect x="453.37" y="75" width="5.2" height="5.2" fill="#ff0066"/>
<rect x="461.3" y="75" width="5.2" height="5.2" fill="#ff0066"/>
<polygon points="305.4,115.91 308.2,119.11 305.4,122.31 302.6,119.11" fill="#0000ff"/>
<polygon points="313.32,115.91 316.12,119.11 313.32,122.31 310.52,119.11" fill="#0000ff"/>
<polygon points="321.25,115.91 324.05,119.11 321.25,122.31 318.45,119.11" fill="#0000ff"/>
<polygon points="329.17,115.91 331.97,119.11 329.17,122.31 326.37,119.11" fill="#0000ff"/>
<polygon points="337.1,115.91 339.9,119.11 337.1,122.31 334.3,119.11" fill="#0000ff"/>
<polygon points="345.02,115.91 347.82,119.11 345.02,122.31 342.22,119.11" fill="#0000ff"/>
<polygon points="352.95,115.91 355.75,119.11 352.95,122.31 350.15,119.11" fill="#0000ff"/>
<polygon points="360.88,115.91 363.68,119.11 360.88,122.31 358.07,119.11" fill="#0000ff"/>
<polygon points="368.8,115.91 371.6,119.11 368.8,122.31 366,119.11" fill="#0000ff"/>
<polygon points="376.72,115.91 379.52,119.11 376.72,122.31 373.92,119.11" fill="#0000ff"/>
<polygon points="384.65,115.91 387.45,119.11 384.65,122.31 381.85,119.11" fill="#0000ff"/>
<polygon points="392.57,115.91 395.38,119.11 392.57,122.31 389.77,119.11" fill="#0000ff"/>
<polygon points="400.5,115.91 403.3,119.11 400.5,122.31 397.7,119.11" fill="#0000ff"/>
<polygon points="408.42,115.91 411.22,119.11 408.42,122.31 405.62,119.11" fill="#0000ff"/>
<polygon points="416.35,115.91 419.15,119.11 416.35,122.31 413.55,119.11" fill="#0000ff"/>
<polygon points="424.27,115.91 427.07,119.11 424.27,122.31 421.47,119.11" fill="#0000ff"/>
<polygon points="432.2,115.91 435,119.11 432.2,122.31 429.4,119.11" fill="#0000ff"/>
<polygon points="440.12,115.91 442.93,119.11 440.12,122.31 437.32,119.11" fill="#0000ff"/>
<polygon points="448.05,115.91 450.85,119.11 448.05,122.31 445.25,119.11" fill="#0000ff"/>
<polygon points="455.97,115.91 458.77,119.11 455.97,122.31 453.17,119.11" fill="#0000ff"/>
<polygon points="463.9,115.91 466.7,119.11 463.9,122.31 461.1,119.11" fill="#0000ff"/>
<line x1="455.3" y1="49.8" x2="342.5" y2="120.7" stroke="#000" stroke-width="1.7" stroke-linecap="butt" stroke-dasharray="4.2 3.7"/>
<line x1="438.2" y1="60.7" x2="473.5" y2="60.7" stroke="#000" stroke-width="1.6" stroke-linecap="butt" stroke-dasharray="4.2 4.0"/>
<path d="M451.3,52.6 Q456.6,54.4 457.9,60.3" fill="none" stroke="#000" stroke-width="1.1"/>
<text id="B_arctan" x="458.8" y="56.1" font-family="Liberation Sans" font-size="9.900" font-weight="normal" fill="#111" stroke="#111" stroke-width="0.5" stroke-linejoin="round" textLength="50.200" lengthAdjust="spacingAndGlyphs">arctan(FFR)</text>
<line x1="345.4" y1="46" x2="357" y2="46" stroke="#0000ff" stroke-width="1" stroke-linecap="butt"/>
<polygon points="351.2,43.1 353.7,46 351.2,48.9 348.7,46" fill="#0000ff"/>
<text id="B_control" x="362.54" y="48.4" font-family="Liberation Sans" font-size="8.813" font-weight="normal" fill="#444" textLength="26.531" lengthAdjust="spacingAndGlyphs">control</text>
<line x1="345.4" y1="59.6" x2="357" y2="59.6" stroke="#ff0066" stroke-width="1" stroke-linecap="butt"/>
<rect x="348.7" y="57" width="5.1" height="5.2" fill="#ff0066"/>
<text id="B_clotting" x="362.54" y="61.5" font-family="Liberation Sans" font-size="8.893" font-weight="normal" fill="#ff0066" textLength="27.381" lengthAdjust="spacingAndGlyphs">clotting</text>
<text id="B_desc0" x="314.42" y="201.9" font-family="Liberation Sans" font-size="9.035" font-weight="normal" fill="#111" stroke="#111" stroke-width="0.25" stroke-linejoin="round" textLength="70.266" lengthAdjust="spacingAndGlyphs"><tspan font-weight="bold">RT</tspan> - reaction time</text>
<text id="B_desc1" x="314.42" y="212.2" font-family="Liberation Sans" font-size="9.227" font-weight="normal" fill="#111" stroke="#111" stroke-width="0.25" stroke-linejoin="round" textLength="100.866" lengthAdjust="spacingAndGlyphs"><tspan font-weight="bold">FFR</tspan> - fibrin formation rate</text>
<text id="B_desc2" x="314.42" y="222.5" font-family="Liberation Sans" font-size="9.116" font-weight="normal" fill="#111" stroke="#111" stroke-width="0.25" stroke-linejoin="round" textLength="103.266" lengthAdjust="spacingAndGlyphs"><tspan font-weight="bold">MFL</tspan> - maximum fibrin level</text>
<text id="L_C" x="18.21" y="266.5" font-family="Liberation Sans" font-size="20.511" font-weight="bold" fill="#1c2a16" stroke="#1c2a16" stroke-width="0.5" stroke-linejoin="round" textLength="12.169" lengthAdjust="spacingAndGlyphs">C</text>
<text id="C_title" x="92.7" y="267.5" font-family="Liberation Sans" font-size="10.725" font-weight="bold" fill="#000" textLength="110.386" lengthAdjust="spacingAndGlyphs">Elastic Tweezograph</text>
<polyline points="69.7,384.6 76,382 83.7,379 91.2,373.3 95,370 98.7,366.2 102.5,363.4 105.8,361.8 108.9,358.3 112,353.5 115.1,348.9 118.1,344.2 120.5,343.1 123.6,341.5 125.9,337.3 128.2,334.6 131.3,332.3 134.4,329.2 135,327.1 138.9,324 142.7,321.7 146.6,319.4 150.5,316.7 154.3,314.4 158.2,312.4 162.1,310.9 165.9,309.3 169.8,307.4 175,306.6 182.8,304.2 193.5,301 204.3,298.3 215.1,295.6 221.5,294" fill="none" stroke="#0a7d80" stroke-width="1.6" stroke-linejoin="round"/>
<polygon points="70.2,382.21 72.29,385.82 68.11,385.82" fill="#0a7d80"/>
<polygon points="72.79,381.14 74.88,384.75 70.7,384.75" fill="#0a7d80"/>
<polygon points="75.39,380.07 77.48,383.68 73.3,383.68" fill="#0a7d80"/>
<polygon points="77.98,379.04 80.07,382.65 75.89,382.65" fill="#0a7d80"/>
<polygon points="80.57,378.03 82.66,381.64 78.48,381.64" fill="#0a7d80"/>
<polygon points="83.16,377.02 85.25,380.63 81.07,380.63" fill="#0a7d80"/>
<polygon points="85.75,375.25 87.84,378.86 83.66,378.86" fill="#0a7d80"/>
<polygon points="88.35,373.28 90.44,376.89 86.26,376.89" fill="#0a7d80"/>
<polygon points="90.94,371.31 93.03,374.92 88.85,374.92" fill="#0a7d80"/>
<polygon points="93.53,369.09 95.62,372.7 91.44,372.7" fill="#0a7d80"/>
<polygon points="96.12,366.66 98.22,370.27 94.03,370.27" fill="#0a7d80"/>
<polygon points="98.72,364 100.81,367.61 96.63,367.61" fill="#0a7d80"/>
<polygon points="101.31,362.09 103.4,365.7 99.22,365.7" fill="#0a7d80"/>
<polygon points="103.9,360.53 105.99,364.14 101.81,364.14" fill="#0a7d80"/>
<polygon points="106.5,358.83 108.59,362.44 104.41,362.44" fill="#0a7d80"/>
<polygon points="109.09,355.82 111.18,359.43 107,359.43" fill="#0a7d80"/>
<polygon points="111.68,351.81 113.77,355.42 109.59,355.42" fill="#0a7d80"/>
<polygon points="114.27,347.94 116.36,351.55 112.18,351.55" fill="#0a7d80"/>
<polygon points="116.87,343.95 118.96,347.56 114.78,347.56" fill="#0a7d80"/>
<polygon points="119.46,341.39 121.55,345 117.37,345" fill="#0a7d80"/>
<polygon points="122.05,340.12 124.14,343.73 119.96,343.73" fill="#0a7d80"/>
<polygon points="124.64,337.41 126.73,341.02 122.55,341.02" fill="#0a7d80"/>
<polygon points="127.23,333.55 129.32,337.16 125.14,337.16" fill="#0a7d80"/>
<polygon points="129.83,331.21 131.92,334.82 127.74,334.82" fill="#0a7d80"/>
<polygon points="132.42,329 134.51,332.61 130.33,332.61" fill="#0a7d80"/>
<polygon points="135.01,324.91 137.1,328.52 132.92,328.52" fill="#0a7d80"/>
<polygon points="137.61,322.84 139.7,326.45 135.52,326.45" fill="#0a7d80"/>
<polygon points="140.2,321.03 142.29,324.64 138.11,324.64" fill="#0a7d80"/>
<polygon points="142.79,319.46 144.88,323.07 140.7,323.07" fill="#0a7d80"/>
<polygon points="145.38,317.93 147.47,321.54 143.29,321.54" fill="#0a7d80"/>
<polygon points="147.97,316.26 150.06,319.87 145.88,319.87" fill="#0a7d80"/>
<polygon points="150.57,314.47 152.66,318.08 148.48,318.08" fill="#0a7d80"/>
<polygon points="153.16,312.9 155.25,316.51 151.07,316.51" fill="#0a7d80"/>
<polygon points="155.75,311.47 157.84,315.08 153.66,315.08" fill="#0a7d80"/>
<polygon points="158.34,310.16 160.44,313.77 156.25,313.77" fill="#0a7d80"/>
<polygon points="160.94,309.16 163.03,312.77 158.85,312.77" fill="#0a7d80"/>
<polygon points="163.53,308.11 165.62,311.72 161.44,311.72" fill="#0a7d80"/>
<polygon points="166.12,307.01 168.21,310.62 164.03,310.62" fill="#0a7d80"/>
<polygon points="168.71,305.74 170.8,309.35 166.62,309.35" fill="#0a7d80"/>
<polygon points="171.31,304.98 173.4,308.59 169.22,308.59" fill="#0a7d80"/>
<polygon points="173.9,304.58 175.99,308.19 171.81,308.19" fill="#0a7d80"/>
<polygon points="176.49,303.96 178.58,307.57 174.4,307.57" fill="#0a7d80"/>
<polygon points="179.08,303.16 181.17,306.77 176.99,306.77" fill="#0a7d80"/>
<polygon points="181.68,302.36 183.77,305.97 179.59,305.97" fill="#0a7d80"/>
<polygon points="184.27,301.58 186.36,305.19 182.18,305.19" fill="#0a7d80"/>
<polygon points="186.86,300.8 188.95,304.41 184.77,304.41" fill="#0a7d80"/>
<polygon points="189.45,300.02 191.54,303.63 187.36,303.63" fill="#0a7d80"/>
<polygon points="192.05,299.25 194.14,302.86 189.96,302.86" fill="#0a7d80"/>
<polygon points="194.64,298.53 196.73,302.14 192.55,302.14" fill="#0a7d80"/>
<polygon points="197.23,297.88 199.32,301.49 195.14,301.49" fill="#0a7d80"/>
<polygon points="199.82,297.23 201.91,300.84 197.73,300.84" fill="#0a7d80"/>
<polygon points="202.42,296.59 204.51,300.2 200.33,300.2" fill="#0a7d80"/>
<polygon points="205.01,295.94 207.1,299.55 202.92,299.55" fill="#0a7d80"/>
<polygon points="207.6,295.29 209.69,298.9 205.51,298.9" fill="#0a7d80"/>
<polygon points="210.19,294.64 212.28,298.25 208.1,298.25" fill="#0a7d80"/>
<polygon points="212.79,293.99 214.88,297.6 210.7,297.6" fill="#0a7d80"/>
<polygon points="215.38,293.35 217.47,296.96 213.29,296.96" fill="#0a7d80"/>
<polygon points="217.97,292.7 220.06,296.31 215.88,296.31" fill="#0a7d80"/>
<polygon points="220.56,292.05 222.66,295.66 218.47,295.66" fill="#0a7d80"/>
<polyline points="69.2,385 72.6,382.3 76.7,380.3 79.6,378.6 82.5,375.7 85.4,373.6 88.3,371.6 91.2,369.3 94.1,365.8 97,362.6 98.1,360.9 101,357.5 103.6,353.1 106.5,348.1 109.1,343.6 111.2,338.9 114.3,334.8 117,330.2 119.7,325.9 122.4,322.4 124.7,318.9 127.4,314.7 130.5,310.8 133.6,307.7 135,306.6 142.7,302.8 150.5,300.8 158.2,299.7 165.9,298.5 172,297.8 182.8,295.6 193.5,293.5 203.2,291.3 204.3,290.2 212.9,288.6 215.1,287.3 224.8,287" fill="none" stroke="#ff0066" stroke-width="1.6" stroke-linejoin="round"/>
<rect x="68.3" y="382.31" width="3.8" height="3.8" fill="#ff0066"/>
<rect x="70.89" y="380.31" width="3.8" height="3.8" fill="#ff0066"/>
<rect x="73.48" y="379.04" width="3.8" height="3.8" fill="#ff0066"/>
<rect x="76.08" y="377.65" width="3.8" height="3.8" fill="#ff0066"/>
<rect x="78.67" y="375.73" width="3.8" height="3.8" fill="#ff0066"/>
<rect x="81.26" y="373.32" width="3.8" height="3.8" fill="#ff0066"/>
<rect x="83.85" y="371.46" width="3.8" height="3.8" fill="#ff0066"/>
<rect x="86.45" y="369.66" width="3.8" height="3.8" fill="#ff0066"/>
<rect x="89.04" y="367.61" width="3.8" height="3.8" fill="#ff0066"/>
<rect x="91.63" y="364.58" width="3.8" height="3.8" fill="#ff0066"/>
<rect x="94.22" y="361.67" width="3.8" height="3.8" fill="#ff0066"/>
<rect x="96.82" y="358.28" width="3.8" height="3.8" fill="#ff0066"/>
<rect x="99.41" y="355.08" width="3.8" height="3.8" fill="#ff0066"/>
<rect x="102" y="350.68" width="3.8" height="3.8" fill="#ff0066"/>
<rect x="104.59" y="346.21" width="3.8" height="3.8" fill="#ff0066"/>
<rect x="107.19" y="341.72" width="3.8" height="3.8" fill="#ff0066"/>
<rect x="109.78" y="336.37" width="3.8" height="3.8" fill="#ff0066"/>
<rect x="112.37" y="332.94" width="3.8" height="3.8" fill="#ff0066"/>
<rect x="114.97" y="328.53" width="3.8" height="3.8" fill="#ff0066"/>
<rect x="117.56" y="324.39" width="3.8" height="3.8" fill="#ff0066"/>
<rect x="120.15" y="320.95" width="3.8" height="3.8" fill="#ff0066"/>
<rect x="122.74" y="317.09" width="3.8" height="3.8" fill="#ff0066"/>
<rect x="125.33" y="313.06" width="3.8" height="3.8" fill="#ff0066"/>
<rect x="127.93" y="309.75" width="3.8" height="3.8" fill="#ff0066"/>
<rect x="130.52" y="306.98" width="3.8" height="3.8" fill="#ff0066"/>
<rect x="133.11" y="304.69" width="3.8" height="3.8" fill="#ff0066"/>
<rect x="135.71" y="303.41" width="3.8" height="3.8" fill="#ff0066"/>
<rect x="138.3" y="302.14" width="3.8" height="3.8" fill="#ff0066"/>
<rect x="140.89" y="300.88" width="3.8" height="3.8" fill="#ff0066"/>
<rect x="143.48" y="300.21" width="3.8" height="3.8" fill="#ff0066"/>
<rect x="146.07" y="299.55" width="3.8" height="3.8" fill="#ff0066"/>
<rect x="148.67" y="298.89" width="3.8" height="3.8" fill="#ff0066"/>
<rect x="151.26" y="298.52" width="3.8" height="3.8" fill="#ff0066"/>
<rect x="153.85" y="298.15" width="3.8" height="3.8" fill="#ff0066"/>
<rect x="156.44" y="297.78" width="3.8" height="3.8" fill="#ff0066"/>
<rect x="159.04" y="297.37" width="3.8" height="3.8" fill="#ff0066"/>
<rect x="161.63" y="296.97" width="3.8" height="3.8" fill="#ff0066"/>
<rect x="164.22" y="296.57" width="3.8" height="3.8" fill="#ff0066"/>
<rect x="166.81" y="296.28" width="3.8" height="3.8" fill="#ff0066"/>
<rect x="169.41" y="295.98" width="3.8" height="3.8" fill="#ff0066"/>
<rect x="172" y="295.51" width="3.8" height="3.8" fill="#ff0066"/>
<rect x="174.59" y="294.98" width="3.8" height="3.8" fill="#ff0066"/>
<rect x="177.18" y="294.46" width="3.8" height="3.8" fill="#ff0066"/>
<rect x="179.78" y="293.93" width="3.8" height="3.8" fill="#ff0066"/>
<rect x="182.37" y="293.41" width="3.8" height="3.8" fill="#ff0066"/>
<rect x="184.96" y="292.9" width="3.8" height="3.8" fill="#ff0066"/>
<rect x="187.55" y="292.39" width="3.8" height="3.8" fill="#ff0066"/>
<rect x="190.15" y="291.89" width="3.8" height="3.8" fill="#ff0066"/>
<rect x="192.74" y="291.34" width="3.8" height="3.8" fill="#ff0066"/>
<rect x="195.33" y="290.75" width="3.8" height="3.8" fill="#ff0066"/>
<rect x="197.92" y="290.17" width="3.8" height="3.8" fill="#ff0066"/>
<rect x="200.52" y="289.58" width="3.8" height="3.8" fill="#ff0066"/>
<rect x="203.11" y="288.17" width="3.8" height="3.8" fill="#ff0066"/>
<rect x="205.7" y="287.69" width="3.8" height="3.8" fill="#ff0066"/>
<rect x="208.29" y="287.2" width="3.8" height="3.8" fill="#ff0066"/>
<rect x="210.89" y="286.72" width="3.8" height="3.8" fill="#ff0066"/>
<rect x="213.48" y="285.39" width="3.8" height="3.8" fill="#ff0066"/>
<rect x="216.07" y="285.31" width="3.8" height="3.8" fill="#ff0066"/>
<rect x="218.66" y="285.23" width="3.8" height="3.8" fill="#ff0066"/>
<rect x="221.26" y="285.15" width="3.8" height="3.8" fill="#ff0066"/>
<polyline points="69.2,385.8 73.8,384.4 77.9,382.9 80.8,380.9 82.5,378 83.7,375.1 84.8,371.6 85.4,367 86.6,362.9 87.4,360 88.3,352.7 89.8,345 90.8,339.9 92.2,334.2 93.6,329.5 95.1,324.9 95.9,322.8 98.8,320.8 101.2,318.8 104.1,317.6 107,316.2 109.9,315.3 111.5,313.1 116.6,311.2 122.8,309.7 128.2,308.5 129.7,306.8 135,306.6 142.7,305.5 150.5,304.3 158.2,303.5 165.9,302.8 172,302.6 182.8,300.5 191.4,298.8 193.5,297.4 204.3,295.1 215.1,292.9 223.7,291.3" fill="none" stroke="#000" stroke-width="1.8" stroke-linejoin="round"/>
<circle cx="70.2" cy="385.5" r="1.85" fill="#000"/>
<circle cx="72.79" cy="384.71" r="1.85" fill="#000"/>
<circle cx="75.39" cy="383.82" r="1.85" fill="#000"/>
<circle cx="77.98" cy="382.85" r="1.85" fill="#000"/>
<circle cx="80.57" cy="381.06" r="1.85" fill="#000"/>
<circle cx="83.16" cy="376.4" r="1.85" fill="#000"/>
<circle cx="85.75" cy="365.79" r="1.85" fill="#000"/>
<circle cx="88.35" cy="352.46" r="1.85" fill="#000"/>
<circle cx="90.94" cy="339.33" r="1.85" fill="#000"/>
<circle cx="93.53" cy="329.73" r="1.85" fill="#000"/>
<circle cx="96.12" cy="322.64" r="1.85" fill="#000"/>
<circle cx="98.72" cy="320.86" r="1.85" fill="#000"/>
<circle cx="101.31" cy="318.75" r="1.85" fill="#000"/>
<circle cx="103.9" cy="317.68" r="1.85" fill="#000"/>
<circle cx="106.5" cy="316.44" r="1.85" fill="#000"/>
<circle cx="109.09" cy="315.55" r="1.85" fill="#000"/>
<circle cx="111.68" cy="313.03" r="1.85" fill="#000"/>
<circle cx="114.27" cy="312.07" r="1.85" fill="#000"/>
<circle cx="116.87" cy="311.14" r="1.85" fill="#000"/>
<circle cx="119.46" cy="310.51" r="1.85" fill="#000"/>
<circle cx="122.05" cy="309.88" r="1.85" fill="#000"/>
<circle cx="124.64" cy="309.29" r="1.85" fill="#000"/>
<circle cx="127.23" cy="308.71" r="1.85" fill="#000"/>
<circle cx="129.83" cy="306.8" r="1.85" fill="#000"/>
<circle cx="132.42" cy="306.7" r="1.85" fill="#000"/>
<circle cx="135.01" cy="306.6" r="1.85" fill="#000"/>
<circle cx="137.61" cy="306.23" r="1.85" fill="#000"/>
<circle cx="140.2" cy="305.86" r="1.85" fill="#000"/>
<circle cx="142.79" cy="305.49" r="1.85" fill="#000"/>
<circle cx="145.38" cy="305.09" r="1.85" fill="#000"/>
<circle cx="147.97" cy="304.69" r="1.85" fill="#000"/>
<circle cx="150.57" cy="304.29" r="1.85" fill="#000"/>
<circle cx="153.16" cy="304.02" r="1.85" fill="#000"/>
<circle cx="155.75" cy="303.75" r="1.85" fill="#000"/>
<circle cx="158.34" cy="303.49" r="1.85" fill="#000"/>
<circle cx="160.94" cy="303.25" r="1.85" fill="#000"/>
<circle cx="163.53" cy="303.02" r="1.85" fill="#000"/>
<circle cx="166.12" cy="302.79" r="1.85" fill="#000"/>
<circle cx="168.71" cy="302.71" r="1.85" fill="#000"/>
<circle cx="171.31" cy="302.62" r="1.85" fill="#000"/>
<circle cx="173.9" cy="302.23" r="1.85" fill="#000"/>
<circle cx="176.49" cy="301.73" r="1.85" fill="#000"/>
<circle cx="179.08" cy="301.22" r="1.85" fill="#000"/>
<circle cx="181.68" cy="300.72" r="1.85" fill="#000"/>
<circle cx="184.27" cy="300.21" r="1.85" fill="#000"/>
<circle cx="186.86" cy="299.7" r="1.85" fill="#000"/>
<circle cx="189.45" cy="299.18" r="1.85" fill="#000"/>
<circle cx="192.05" cy="298.37" r="1.85" fill="#000"/>
<circle cx="194.64" cy="297.16" r="1.85" fill="#000"/>
<circle cx="197.23" cy="296.61" r="1.85" fill="#000"/>
<circle cx="199.82" cy="296.05" r="1.85" fill="#000"/>
<circle cx="202.42" cy="295.5" r="1.85" fill="#000"/>
<circle cx="205.01" cy="294.96" r="1.85" fill="#000"/>
<circle cx="207.6" cy="294.43" r="1.85" fill="#000"/>
<circle cx="210.19" cy="293.9" r="1.85" fill="#000"/>
<circle cx="212.79" cy="293.37" r="1.85" fill="#000"/>
<circle cx="215.38" cy="292.85" r="1.85" fill="#000"/>
<circle cx="217.97" cy="292.37" r="1.85" fill="#000"/>
<circle cx="220.56" cy="291.88" r="1.85" fill="#000"/>
<circle cx="223.16" cy="291.4" r="1.85" fill="#000"/>
<line x1="144.4" y1="346.3" x2="155.6" y2="346.3" stroke="#000" stroke-width="1.6" stroke-linecap="butt"/>
<circle cx="150.2" cy="346.3" r="1.6" fill="#000"/>
<text id="C_leg0" x="161.14" y="349.4" font-family="Liberation Sans" font-size="9.673" font-weight="normal" fill="#333" stroke="#333" stroke-width="0.15" stroke-linejoin="round" textLength="32.061" lengthAdjust="spacingAndGlyphs">Healthy</text>
<line x1="144.4" y1="358.9" x2="155.6" y2="358.9" stroke="#ff0066" stroke-width="1.6" stroke-linecap="butt"/>
<circle cx="150.2" cy="358.9" r="2" fill="#ff0066"/>
<text id="C_leg1" x="161.14" y="362" font-family="Liberation Sans" font-size="9.816" font-weight="normal" fill="#333" stroke="#333" stroke-width="0.15" stroke-linejoin="round" textLength="62.523" lengthAdjust="spacingAndGlyphs">FVIII deficient</text>
<line x1="144.4" y1="371.5" x2="155.6" y2="371.5" stroke="#0a7d80" stroke-width="1.6" stroke-linecap="butt"/>
<circle cx="150.2" cy="371.5" r="1.6" fill="#0a7d80"/>
<text id="C_leg2" x="161.15" y="374.3" font-family="Liberation Sans" font-size="9.531" font-weight="normal" fill="#333" stroke="#333" stroke-width="0.15" stroke-linejoin="round" textLength="58.850" lengthAdjust="spacingAndGlyphs">FVIII inhibitor</text>
<line x1="70.4" y1="281.3" x2="70.4" y2="386.2" stroke="#000" stroke-width="1.5" stroke-linecap="butt"/>
<line x1="69.7" y1="385.6" x2="226.45" y2="385.6" stroke="#000" stroke-width="1.5" stroke-linecap="butt"/>
<line x1="66.2" y1="281.9" x2="70.4" y2="281.9" stroke="#000" stroke-width="1.5" stroke-linecap="butt"/>
<text x="64.4" y="284.5" font-family="Liberation Sans" font-size="8.1" font-weight="bold" fill="#1a1a1a" text-anchor="end" textLength="10.9" lengthAdjust="spacingAndGlyphs">0.8</text>
<line x1="66.2" y1="307.8" x2="70.4" y2="307.8" stroke="#000" stroke-width="1.5" stroke-linecap="butt"/>
<text x="64.4" y="310.4" font-family="Liberation Sans" font-size="8.1" font-weight="bold" fill="#1a1a1a" text-anchor="end" textLength="10.9" lengthAdjust="spacingAndGlyphs">0.6</text>
<line x1="66.2" y1="333.7" x2="70.4" y2="333.7" stroke="#000" stroke-width="1.5" stroke-linecap="butt"/>
<text x="64.4" y="336.3" font-family="Liberation Sans" font-size="8.1" font-weight="bold" fill="#1a1a1a" text-anchor="end" textLength="10.9" lengthAdjust="spacingAndGlyphs">0.4</text>
<line x1="66.2" y1="359.6" x2="70.4" y2="359.6" stroke="#000" stroke-width="1.5" stroke-linecap="butt"/>
<text x="64.4" y="362.2" font-family="Liberation Sans" font-size="8.1" font-weight="bold" fill="#1a1a1a" text-anchor="end" textLength="10.9" lengthAdjust="spacingAndGlyphs">0.2</text>
<line x1="66.2" y1="385.5" x2="70.4" y2="385.5" stroke="#000" stroke-width="1.5" stroke-linecap="butt"/>
<text x="64.4" y="388.1" font-family="Liberation Sans" font-size="8.1" font-weight="bold" fill="#1a1a1a" text-anchor="end" textLength="10.9" lengthAdjust="spacingAndGlyphs">0.0</text>
<line x1="70.2" y1="385.6" x2="70.2" y2="389.4" stroke="#000" stroke-width="1.2" stroke-linecap="butt"/>
<line x1="75.39" y1="385.6" x2="75.39" y2="388" stroke="#000" stroke-width="1.2" stroke-linecap="butt"/>
<line x1="80.57" y1="385.6" x2="80.57" y2="388" stroke="#000" stroke-width="1.2" stroke-linecap="butt"/>
<line x1="85.75" y1="385.6" x2="85.75" y2="388" stroke="#000" stroke-width="1.2" stroke-linecap="butt"/>
<line x1="90.94" y1="385.6" x2="90.94" y2="388" stroke="#000" stroke-width="1.2" stroke-linecap="butt"/>
<line x1="96.12" y1="385.6" x2="96.12" y2="388" stroke="#000" stroke-width="1.2" stroke-linecap="butt"/>
<line x1="101.31" y1="385.6" x2="101.31" y2="388" stroke="#000" stroke-width="1.2" stroke-linecap="butt"/>
<line x1="106.5" y1="385.6" x2="106.5" y2="388" stroke="#000" stroke-width="1.2" stroke-linecap="butt"/>
<line x1="111.68" y1="385.6" x2="111.68" y2="388" stroke="#000" stroke-width="1.2" stroke-linecap="butt"/>
<line x1="116.87" y1="385.6" x2="116.87" y2="388" stroke="#000" stroke-width="1.2" stroke-linecap="butt"/>
<line x1="122.05" y1="385.6" x2="122.05" y2="389.4" stroke="#000" stroke-width="1.2" stroke-linecap="butt"/>
<line x1="127.23" y1="385.6" x2="127.23" y2="388" stroke="#000" stroke-width="1.2" stroke-linecap="butt"/>
<line x1="132.42" y1="385.6" x2="132.42" y2="388" stroke="#000" stroke-width="1.2" stroke-linecap="butt"/>
<line x1="137.61" y1="385.6" x2="137.61" y2="388" stroke="#000" stroke-width="1.2" stroke-linecap="butt"/>
<line x1="142.79" y1="385.6" x2="142.79" y2="388" stroke="#000" stroke-width="1.2" stroke-linecap="butt"/>
<line x1="147.97" y1="385.6" x2="147.97" y2="388" stroke="#000" stroke-width="1.2" stroke-linecap="butt"/>
<line x1="153.16" y1="385.6" x2="153.16" y2="388" stroke="#000" stroke-width="1.2" stroke-linecap="butt"/>
<line x1="158.34" y1="385.6" x2="158.34" y2="388" stroke="#000" stroke-width="1.2" stroke-linecap="butt"/>
<line x1="163.53" y1="385.6" x2="163.53" y2="388" stroke="#000" stroke-width="1.2" stroke-linecap="butt"/>
<line x1="168.71" y1="385.6" x2="168.71" y2="388" stroke="#000" stroke-width="1.2" stroke-linecap="butt"/>
<line x1="173.9" y1="385.6" x2="173.9" y2="389.4" stroke="#000" stroke-width="1.2" stroke-linecap="butt"/>
<line x1="179.08" y1="385.6" x2="179.08" y2="388" stroke="#000" stroke-width="1.2" stroke-linecap="butt"/>
<line x1="184.27" y1="385.6" x2="184.27" y2="388" stroke="#000" stroke-width="1.2" stroke-linecap="butt"/>
<line x1="189.45" y1="385.6" x2="189.45" y2="388" stroke="#000" stroke-width="1.2" stroke-linecap="butt"/>
<line x1="194.64" y1="385.6" x2="194.64" y2="388" stroke="#000" stroke-width="1.2" stroke-linecap="butt"/>
<line x1="199.82" y1="385.6" x2="199.82" y2="388" stroke="#000" stroke-width="1.2" stroke-linecap="butt"/>
<line x1="205.01" y1="385.6" x2="205.01" y2="388" stroke="#000" stroke-width="1.2" stroke-linecap="butt"/>
<line x1="210.19" y1="385.6" x2="210.19" y2="388" stroke="#000" stroke-width="1.2" stroke-linecap="butt"/>
<line x1="215.38" y1="385.6" x2="215.38" y2="388" stroke="#000" stroke-width="1.2" stroke-linecap="butt"/>
<line x1="220.56" y1="385.6" x2="220.56" y2="388" stroke="#000" stroke-width="1.2" stroke-linecap="butt"/>
<line x1="225.75" y1="385.6" x2="225.75" y2="389.4" stroke="#000" stroke-width="1.2" stroke-linecap="butt"/>
<text x="70.2" y="398.4" font-family="Liberation Sans" font-size="8.1" font-weight="bold" fill="#1a1a1a" text-anchor="middle">0</text>
<text x="122.05" y="398.4" font-family="Liberation Sans" font-size="8.1" font-weight="bold" fill="#1a1a1a" text-anchor="middle">10</text>
<text x="173.9" y="398.4" font-family="Liberation Sans" font-size="8.1" font-weight="bold" fill="#1a1a1a" text-anchor="middle">20</text>
<text x="225.75" y="398.4" font-family="Liberation Sans" font-size="8.1" font-weight="bold" fill="#1a1a1a" text-anchor="middle">30</text>
<text id="C_time" x="121.21" y="413.5" font-family="Liberation Sans" font-size="10.369" font-weight="bold" fill="#000" textLength="54.107" lengthAdjust="spacingAndGlyphs">Time (min)</text>
<text id="C_ylab" x="47.41" y="387.31" transform="rotate(-90 47.41 387.31)" font-family="Liberation Sans" font-size="11.355" font-weight="bold" fill="#000" textLength="108.328" lengthAdjust="spacingAndGlyphs">Normalized elasticity</text>
<text id="L_D" x="274.97" y="265" font-family="Liberation Sans" font-size="20.579" font-weight="bold" fill="#1c2a16" stroke="#1c2a16" stroke-width="0.5" stroke-linejoin="round" textLength="14.396" lengthAdjust="spacingAndGlyphs">D</text>
<text id="D_title" x="335.2" y="267.5" font-family="Liberation Sans" font-size="10.725" font-weight="bold" fill="#000" textLength="117.886" lengthAdjust="spacingAndGlyphs">Viscous Tweezograph</text>
<polyline points="321.4,386.5 323.9,386.6 330.4,385.9 335.7,384.3 339.7,382 341.6,379 343.6,375.7 346.6,372.2 350.3,363.9 355.8,356.8 359.1,349 362.9,341.8 366.6,339.7 369.8,336.5 373,332.2 376.2,328 377.9,326.5 380,324.8 384.6,321.1 394.2,316.7 403.8,313.4 413.5,310.5 420,309.4 430.6,307 441.2,304.9 451.7,302.8 462.3,301.2 470.3,299.7" fill="none" stroke="#0a7d80" stroke-width="1.6" stroke-linejoin="round"/>
<polygon points="323.97,384.41 326.06,388.02 321.88,388.02" fill="#0a7d80"/>
<polygon points="326.56,384.13 328.65,387.74 324.47,387.74" fill="#0a7d80"/>
<polygon points="329.15,383.85 331.24,387.46 327.06,387.46" fill="#0a7d80"/>
<polygon points="331.74,383.31 333.83,386.92 329.65,386.92" fill="#0a7d80"/>
<polygon points="334.33,382.53 336.42,386.14 332.24,386.14" fill="#0a7d80"/>
<polygon points="336.92,381.41 339.01,385.02 334.83,385.02" fill="#0a7d80"/>
<polygon points="339.51,379.92 341.6,383.53 337.42,383.53" fill="#0a7d80"/>
<polygon points="342.1,375.99 344.19,379.6 340.01,379.6" fill="#0a7d80"/>
<polygon points="344.69,372.24 346.78,375.85 342.6,375.85" fill="#0a7d80"/>
<polygon points="347.28,368.49 349.37,372.1 345.19,372.1" fill="#0a7d80"/>
<polygon points="349.87,362.68 351.96,366.29 347.78,366.29" fill="#0a7d80"/>
<polygon points="352.46,358.93 354.55,362.54 350.37,362.54" fill="#0a7d80"/>
<polygon points="355.05,355.58 357.14,359.19 352.96,359.19" fill="#0a7d80"/>
<polygon points="357.64,350.27 359.73,353.88 355.55,353.88" fill="#0a7d80"/>
<polygon points="360.23,344.67 362.32,348.28 358.14,348.28" fill="#0a7d80"/>
<polygon points="362.82,339.77 364.91,343.38 360.73,343.38" fill="#0a7d80"/>
<polygon points="365.41,338.19 367.5,341.8 363.32,341.8" fill="#0a7d80"/>
<polygon points="368,336.12 370.09,339.73 365.91,339.73" fill="#0a7d80"/>
<polygon points="370.59,333.25 372.68,336.86 368.5,336.86" fill="#0a7d80"/>
<polygon points="373.18,329.78 375.27,333.39 371.09,333.39" fill="#0a7d80"/>
<polygon points="375.77,326.38 377.86,329.99 373.68,329.99" fill="#0a7d80"/>
<polygon points="378.36,323.94 380.45,327.55 376.27,327.55" fill="#0a7d80"/>
<polygon points="380.95,321.85 383.04,325.46 378.86,325.46" fill="#0a7d80"/>
<polygon points="383.54,319.77 385.63,323.38 381.45,323.38" fill="#0a7d80"/>
<polygon points="386.13,318.21 388.22,321.82 384.04,321.82" fill="#0a7d80"/>
<polygon points="388.72,317.03 390.81,320.64 386.63,320.64" fill="#0a7d80"/>
<polygon points="391.31,315.84 393.4,319.45 389.22,319.45" fill="#0a7d80"/>
<polygon points="393.9,314.65 395.99,318.26 391.81,318.26" fill="#0a7d80"/>
<polygon points="396.49,313.73 398.58,317.34 394.4,317.34" fill="#0a7d80"/>
<polygon points="399.08,312.84 401.17,316.45 396.99,316.45" fill="#0a7d80"/>
<polygon points="401.67,311.95 403.76,315.56 399.58,315.56" fill="#0a7d80"/>
<polygon points="404.26,311.08 406.35,314.69 402.17,314.69" fill="#0a7d80"/>
<polygon points="406.85,310.3 408.94,313.91 404.76,313.91" fill="#0a7d80"/>
<polygon points="409.44,309.53 411.53,313.14 407.35,313.14" fill="#0a7d80"/>
<polygon points="412.03,308.75 414.12,312.36 409.94,312.36" fill="#0a7d80"/>
<polygon points="414.62,308.13 416.71,311.74 412.53,311.74" fill="#0a7d80"/>
<polygon points="417.21,307.69 419.3,311.3 415.12,311.3" fill="#0a7d80"/>
<polygon points="419.8,307.25 421.89,310.86 417.71,310.86" fill="#0a7d80"/>
<polygon points="422.39,306.67 424.48,310.28 420.3,310.28" fill="#0a7d80"/>
<polygon points="424.98,306.09 427.07,309.7 422.89,309.7" fill="#0a7d80"/>
<polygon points="427.57,305.5 429.66,309.11 425.48,309.11" fill="#0a7d80"/>
<polygon points="430.16,304.91 432.25,308.52 428.07,308.52" fill="#0a7d80"/>
<polygon points="432.75,304.39 434.84,308 430.66,308" fill="#0a7d80"/>
<polygon points="435.34,303.88 437.43,307.49 433.25,307.49" fill="#0a7d80"/>
<polygon points="437.93,303.36 440.02,306.97 435.84,306.97" fill="#0a7d80"/>
<polygon points="440.52,302.85 442.61,306.46 438.43,306.46" fill="#0a7d80"/>
<polygon points="443.11,302.33 445.2,305.94 441.02,305.94" fill="#0a7d80"/>
<polygon points="445.7,301.81 447.79,305.43 443.61,305.43" fill="#0a7d80"/>
<polygon points="448.29,301.3 450.38,304.91 446.2,304.91" fill="#0a7d80"/>
<polygon points="450.88,300.78 452.97,304.39 448.79,304.39" fill="#0a7d80"/>
<polygon points="453.47,300.35 455.56,303.96 451.38,303.96" fill="#0a7d80"/>
<polygon points="456.06,299.96 458.15,303.57 453.97,303.57" fill="#0a7d80"/>
<polygon points="458.65,299.57 460.74,303.18 456.56,303.18" fill="#0a7d80"/>
<polygon points="461.24,299.18 463.33,302.79 459.15,302.79" fill="#0a7d80"/>
<polygon points="463.83,298.73 465.92,302.34 461.74,302.34" fill="#0a7d80"/>
<polygon points="466.42,298.24 468.51,301.85 464.33,301.85" fill="#0a7d80"/>
<polygon points="469.01,297.76 471.1,301.37 466.92,301.37" fill="#0a7d80"/>
<polyline points="316.4,386.3 319,386 321.9,384.9 325.2,382.3 328.1,379.7 331.1,376.4 333.7,372.4 336.7,368.8 339,362.6 341.6,357.5 346.2,348.5 349.6,342.9 352.2,337.6 354.9,332.2 357.6,328 360.2,325.9 362.9,322.7 365.5,318.9 368.7,316.3 371.9,313.6 375.1,312 379.4,309.9 384.6,307.6 392.3,304.2 399,302.8 403.8,302.3 411.5,301.3 416.3,299 420.2,300.6 425,299.6 431.9,298 445.4,296.4 458.8,295 470.8,294.1" fill="none" stroke="#ff0066" stroke-width="1.6" stroke-linejoin="round"/>
<rect x="316.94" y="384.17" width="3.7" height="3.7" fill="#ff0066"/>
<rect x="319.53" y="383.25" width="3.7" height="3.7" fill="#ff0066"/>
<rect x="322.12" y="381.42" width="3.7" height="3.7" fill="#ff0066"/>
<rect x="324.71" y="379.23" width="3.7" height="3.7" fill="#ff0066"/>
<rect x="327.3" y="376.69" width="3.7" height="3.7" fill="#ff0066"/>
<rect x="329.89" y="373.57" width="3.7" height="3.7" fill="#ff0066"/>
<rect x="332.48" y="369.79" width="3.7" height="3.7" fill="#ff0066"/>
<rect x="335.07" y="366.36" width="3.7" height="3.7" fill="#ff0066"/>
<rect x="337.66" y="359.75" width="3.7" height="3.7" fill="#ff0066"/>
<rect x="340.25" y="354.67" width="3.7" height="3.7" fill="#ff0066"/>
<rect x="342.84" y="349.6" width="3.7" height="3.7" fill="#ff0066"/>
<rect x="345.43" y="344.87" width="3.7" height="3.7" fill="#ff0066"/>
<rect x="348.02" y="340.5" width="3.7" height="3.7" fill="#ff0066"/>
<rect x="350.61" y="335.23" width="3.7" height="3.7" fill="#ff0066"/>
<rect x="353.2" y="330.12" width="3.7" height="3.7" fill="#ff0066"/>
<rect x="355.79" y="326.12" width="3.7" height="3.7" fill="#ff0066"/>
<rect x="358.38" y="324.01" width="3.7" height="3.7" fill="#ff0066"/>
<rect x="360.97" y="320.94" width="3.7" height="3.7" fill="#ff0066"/>
<rect x="363.56" y="317.18" width="3.7" height="3.7" fill="#ff0066"/>
<rect x="366.15" y="315.02" width="3.7" height="3.7" fill="#ff0066"/>
<rect x="368.74" y="312.86" width="3.7" height="3.7" fill="#ff0066"/>
<rect x="371.33" y="311.11" width="3.7" height="3.7" fill="#ff0066"/>
<rect x="373.92" y="309.82" width="3.7" height="3.7" fill="#ff0066"/>
<rect x="376.51" y="308.56" width="3.7" height="3.7" fill="#ff0066"/>
<rect x="379.1" y="307.36" width="3.7" height="3.7" fill="#ff0066"/>
<rect x="381.69" y="306.22" width="3.7" height="3.7" fill="#ff0066"/>
<rect x="384.28" y="305.07" width="3.7" height="3.7" fill="#ff0066"/>
<rect x="386.87" y="303.93" width="3.7" height="3.7" fill="#ff0066"/>
<rect x="389.46" y="302.79" width="3.7" height="3.7" fill="#ff0066"/>
<rect x="392.05" y="302.02" width="3.7" height="3.7" fill="#ff0066"/>
<rect x="394.64" y="301.47" width="3.7" height="3.7" fill="#ff0066"/>
<rect x="397.23" y="300.94" width="3.7" height="3.7" fill="#ff0066"/>
<rect x="399.82" y="300.67" width="3.7" height="3.7" fill="#ff0066"/>
<rect x="402.41" y="300.39" width="3.7" height="3.7" fill="#ff0066"/>
<rect x="405" y="300.05" width="3.7" height="3.7" fill="#ff0066"/>
<rect x="407.59" y="299.72" width="3.7" height="3.7" fill="#ff0066"/>
<rect x="410.18" y="299.2" width="3.7" height="3.7" fill="#ff0066"/>
<rect x="412.77" y="297.95" width="3.7" height="3.7" fill="#ff0066"/>
<rect x="415.36" y="297.52" width="3.7" height="3.7" fill="#ff0066"/>
<rect x="417.95" y="298.59" width="3.7" height="3.7" fill="#ff0066"/>
<rect x="420.54" y="298.29" width="3.7" height="3.7" fill="#ff0066"/>
<rect x="423.13" y="297.75" width="3.7" height="3.7" fill="#ff0066"/>
<rect x="425.72" y="297.15" width="3.7" height="3.7" fill="#ff0066"/>
<rect x="428.31" y="296.55" width="3.7" height="3.7" fill="#ff0066"/>
<rect x="430.9" y="296.05" width="3.7" height="3.7" fill="#ff0066"/>
<rect x="433.49" y="295.74" width="3.7" height="3.7" fill="#ff0066"/>
<rect x="436.08" y="295.44" width="3.7" height="3.7" fill="#ff0066"/>
<rect x="438.67" y="295.13" width="3.7" height="3.7" fill="#ff0066"/>
<rect x="441.26" y="294.82" width="3.7" height="3.7" fill="#ff0066"/>
<rect x="443.85" y="294.52" width="3.7" height="3.7" fill="#ff0066"/>
<rect x="446.44" y="294.25" width="3.7" height="3.7" fill="#ff0066"/>
<rect x="449.03" y="293.98" width="3.7" height="3.7" fill="#ff0066"/>
<rect x="451.62" y="293.71" width="3.7" height="3.7" fill="#ff0066"/>
<rect x="454.21" y="293.44" width="3.7" height="3.7" fill="#ff0066"/>
<rect x="456.8" y="293.17" width="3.7" height="3.7" fill="#ff0066"/>
<rect x="459.39" y="292.97" width="3.7" height="3.7" fill="#ff0066"/>
<rect x="461.98" y="292.77" width="3.7" height="3.7" fill="#ff0066"/>
<rect x="464.57" y="292.58" width="3.7" height="3.7" fill="#ff0066"/>
<rect x="467.16" y="292.38" width="3.7" height="3.7" fill="#ff0066"/>
<polyline points="316.4,386.3 317.3,385.9 318.9,385.6 320.9,383 323.5,380.3 326.2,377.4 327.5,374.4 329,369.2 330.1,363.9 331.3,356.9 334,344.1 336.4,332.5 339,323.2 341.3,317.4 344.2,314.5 347.7,312.2 351.2,310.4 354.7,308.7 358.2,307 362,305.6 364.5,304.6 369.8,303.5 375.1,302.1 380,301.6 384.6,300.9 394.2,299.4 396.2,300.6 403.8,299.9 413.5,299.1 420,299 430.6,297.8 441.2,296.6 451.7,295.7 462.3,294.8 470.8,294" fill="none" stroke="#000" stroke-width="1.8" stroke-linejoin="round"/>
<circle cx="318.79" cy="385.62" r="1.85" fill="#000"/>
<circle cx="321.38" cy="382.5" r="1.85" fill="#000"/>
<circle cx="323.97" cy="379.8" r="1.85" fill="#000"/>
<circle cx="326.56" cy="376.57" r="1.85" fill="#000"/>
<circle cx="329.15" cy="368.48" r="1.85" fill="#000"/>
<circle cx="331.74" cy="354.81" r="1.85" fill="#000"/>
<circle cx="334.33" cy="342.51" r="1.85" fill="#000"/>
<circle cx="336.92" cy="330.64" r="1.85" fill="#000"/>
<circle cx="339.51" cy="321.91" r="1.85" fill="#000"/>
<circle cx="342.1" cy="316.6" r="1.85" fill="#000"/>
<circle cx="344.69" cy="314.18" r="1.85" fill="#000"/>
<circle cx="347.28" cy="312.48" r="1.85" fill="#000"/>
<circle cx="349.87" cy="311.08" r="1.85" fill="#000"/>
<circle cx="352.46" cy="309.79" r="1.85" fill="#000"/>
<circle cx="355.05" cy="308.53" r="1.85" fill="#000"/>
<circle cx="357.64" cy="307.27" r="1.85" fill="#000"/>
<circle cx="360.23" cy="306.25" r="1.85" fill="#000"/>
<circle cx="362.82" cy="305.27" r="1.85" fill="#000"/>
<circle cx="365.41" cy="304.41" r="1.85" fill="#000"/>
<circle cx="368" cy="303.87" r="1.85" fill="#000"/>
<circle cx="370.59" cy="303.29" r="1.85" fill="#000"/>
<circle cx="373.18" cy="302.61" r="1.85" fill="#000"/>
<circle cx="375.77" cy="302.03" r="1.85" fill="#000"/>
<circle cx="378.36" cy="301.77" r="1.85" fill="#000"/>
<circle cx="380.95" cy="301.46" r="1.85" fill="#000"/>
<circle cx="383.54" cy="301.06" r="1.85" fill="#000"/>
<circle cx="386.13" cy="300.66" r="1.85" fill="#000"/>
<circle cx="388.72" cy="300.26" r="1.85" fill="#000"/>
<circle cx="391.31" cy="299.85" r="1.85" fill="#000"/>
<circle cx="393.9" cy="299.45" r="1.85" fill="#000"/>
<circle cx="396.49" cy="300.57" r="1.85" fill="#000"/>
<circle cx="399.08" cy="300.33" r="1.85" fill="#000"/>
<circle cx="401.67" cy="300.1" r="1.85" fill="#000"/>
<circle cx="404.26" cy="299.86" r="1.85" fill="#000"/>
<circle cx="406.85" cy="299.65" r="1.85" fill="#000"/>
<circle cx="409.44" cy="299.43" r="1.85" fill="#000"/>
<circle cx="412.03" cy="299.22" r="1.85" fill="#000"/>
<circle cx="414.62" cy="299.08" r="1.85" fill="#000"/>
<circle cx="417.21" cy="299.04" r="1.85" fill="#000"/>
<circle cx="419.8" cy="299" r="1.85" fill="#000"/>
<circle cx="422.39" cy="298.73" r="1.85" fill="#000"/>
<circle cx="424.98" cy="298.44" r="1.85" fill="#000"/>
<circle cx="427.57" cy="298.14" r="1.85" fill="#000"/>
<circle cx="430.16" cy="297.85" r="1.85" fill="#000"/>
<circle cx="432.75" cy="297.56" r="1.85" fill="#000"/>
<circle cx="435.34" cy="297.26" r="1.85" fill="#000"/>
<circle cx="437.93" cy="296.97" r="1.85" fill="#000"/>
<circle cx="440.52" cy="296.68" r="1.85" fill="#000"/>
<circle cx="443.11" cy="296.44" r="1.85" fill="#000"/>
<circle cx="445.7" cy="296.21" r="1.85" fill="#000"/>
<circle cx="448.29" cy="295.99" r="1.85" fill="#000"/>
<circle cx="450.88" cy="295.77" r="1.85" fill="#000"/>
<circle cx="453.47" cy="295.55" r="1.85" fill="#000"/>
<circle cx="456.06" cy="295.33" r="1.85" fill="#000"/>
<circle cx="458.65" cy="295.11" r="1.85" fill="#000"/>
<circle cx="461.24" cy="294.89" r="1.85" fill="#000"/>
<circle cx="463.83" cy="294.66" r="1.85" fill="#000"/>
<circle cx="466.42" cy="294.41" r="1.85" fill="#000"/>
<circle cx="469.01" cy="294.17" r="1.85" fill="#000"/>
<line x1="390" y1="347.4" x2="401.9" y2="347.4" stroke="#000" stroke-width="1.6" stroke-linecap="butt"/>
<circle cx="396" cy="347.4" r="1.6" fill="#000"/>
<text id="D_leg0" x="407.14" y="350.4" font-family="Liberation Sans" font-size="9.673" font-weight="normal" fill="#333" stroke="#333" stroke-width="0.15" stroke-linejoin="round" textLength="32.061" lengthAdjust="spacingAndGlyphs">Healthy</text>
<line x1="390" y1="360" x2="401.9" y2="360" stroke="#ff0066" stroke-width="1.6" stroke-linecap="butt"/>
<circle cx="396" cy="360" r="2" fill="#ff0066"/>
<text id="D_leg1" x="407.14" y="363" font-family="Liberation Sans" font-size="9.816" font-weight="normal" fill="#333" stroke="#333" stroke-width="0.15" stroke-linejoin="round" textLength="62.523" lengthAdjust="spacingAndGlyphs">FVIII deficient</text>
<line x1="390" y1="372.6" x2="401.9" y2="372.6" stroke="#0a7d80" stroke-width="1.6" stroke-linecap="butt"/>
<circle cx="396" cy="372.6" r="1.6" fill="#0a7d80"/>
<text id="D_leg2" x="407.15" y="375.3" font-family="Liberation Sans" font-size="9.531" font-weight="normal" fill="#333" stroke="#333" stroke-width="0.15" stroke-linejoin="round" textLength="58.850" lengthAdjust="spacingAndGlyphs">FVIII inhibitor</text>
<line x1="316.2" y1="281.9" x2="316.2" y2="387" stroke="#555" stroke-width="1.3" stroke-linecap="butt"/>
<line x1="315.5" y1="386.3" x2="472.3" y2="386.3" stroke="#000" stroke-width="1.5" stroke-linecap="butt"/>
<line x1="311.6" y1="282.3" x2="316.2" y2="282.3" stroke="#000" stroke-width="1.5" stroke-linecap="butt"/>
<text x="310" y="284.9" font-family="Liberation Sans" font-size="8.1" font-weight="bold" fill="#1a1a1a" text-anchor="end" textLength="10.9" lengthAdjust="spacingAndGlyphs">1.0</text>
<line x1="311.6" y1="303.1" x2="316.2" y2="303.1" stroke="#000" stroke-width="1.5" stroke-linecap="butt"/>
<text x="310" y="305.7" font-family="Liberation Sans" font-size="8.1" font-weight="bold" fill="#1a1a1a" text-anchor="end" textLength="10.9" lengthAdjust="spacingAndGlyphs">0.8</text>
<line x1="311.6" y1="323.9" x2="316.2" y2="323.9" stroke="#000" stroke-width="1.5" stroke-linecap="butt"/>
<text x="310" y="326.5" font-family="Liberation Sans" font-size="8.1" font-weight="bold" fill="#1a1a1a" text-anchor="end" textLength="10.9" lengthAdjust="spacingAndGlyphs">0.6</text>
<line x1="311.6" y1="344.7" x2="316.2" y2="344.7" stroke="#000" stroke-width="1.5" stroke-linecap="butt"/>
<text x="310" y="347.3" font-family="Liberation Sans" font-size="8.1" font-weight="bold" fill="#1a1a1a" text-anchor="end" textLength="10.9" lengthAdjust="spacingAndGlyphs">0.4</text>
<line x1="311.6" y1="365.5" x2="316.2" y2="365.5" stroke="#000" stroke-width="1.5" stroke-linecap="butt"/>
<text x="310" y="368.1" font-family="Liberation Sans" font-size="8.1" font-weight="bold" fill="#1a1a1a" text-anchor="end" textLength="10.9" lengthAdjust="spacingAndGlyphs">0.2</text>
<line x1="311.6" y1="386.3" x2="316.2" y2="386.3" stroke="#000" stroke-width="1.5" stroke-linecap="butt"/>
<text x="310" y="388.9" font-family="Liberation Sans" font-size="8.1" font-weight="bold" fill="#1a1a1a" text-anchor="end" textLength="10.9" lengthAdjust="spacingAndGlyphs">0.0</text>
<line x1="316.2" y1="386.3" x2="316.2" y2="390.1" stroke="#000" stroke-width="1.2" stroke-linecap="butt"/>
<line x1="321.38" y1="386.3" x2="321.38" y2="388.7" stroke="#000" stroke-width="1.2" stroke-linecap="butt"/>
<line x1="326.56" y1="386.3" x2="326.56" y2="388.7" stroke="#000" stroke-width="1.2" stroke-linecap="butt"/>
<line x1="331.74" y1="386.3" x2="331.74" y2="388.7" stroke="#000" stroke-width="1.2" stroke-linecap="butt"/>
<line x1="336.92" y1="386.3" x2="336.92" y2="388.7" stroke="#000" stroke-width="1.2" stroke-linecap="butt"/>
<line x1="342.1" y1="386.3" x2="342.1" y2="388.7" stroke="#000" stroke-width="1.2" stroke-linecap="butt"/>
<line x1="347.28" y1="386.3" x2="347.28" y2="388.7" stroke="#000" stroke-width="1.2" stroke-linecap="butt"/>
<line x1="352.46" y1="386.3" x2="352.46" y2="388.7" stroke="#000" stroke-width="1.2" stroke-linecap="butt"/>
<line x1="357.64" y1="386.3" x2="357.64" y2="388.7" stroke="#000" stroke-width="1.2" stroke-linecap="butt"/>
<line x1="362.82" y1="386.3" x2="362.82" y2="388.7" stroke="#000" stroke-width="1.2" stroke-linecap="butt"/>
<line x1="368" y1="386.3" x2="368" y2="390.1" stroke="#000" stroke-width="1.2" stroke-linecap="butt"/>
<line x1="373.18" y1="386.3" x2="373.18" y2="388.7" stroke="#000" stroke-width="1.2" stroke-linecap="butt"/>
<line x1="378.36" y1="386.3" x2="378.36" y2="388.7" stroke="#000" stroke-width="1.2" stroke-linecap="butt"/>
<line x1="383.54" y1="386.3" x2="383.54" y2="388.7" stroke="#000" stroke-width="1.2" stroke-linecap="butt"/>
<line x1="388.72" y1="386.3" x2="388.72" y2="388.7" stroke="#000" stroke-width="1.2" stroke-linecap="butt"/>
<line x1="393.9" y1="386.3" x2="393.9" y2="388.7" stroke="#000" stroke-width="1.2" stroke-linecap="butt"/>
<line x1="399.08" y1="386.3" x2="399.08" y2="388.7" stroke="#000" stroke-width="1.2" stroke-linecap="butt"/>
<line x1="404.26" y1="386.3" x2="404.26" y2="388.7" stroke="#000" stroke-width="1.2" stroke-linecap="butt"/>
<line x1="409.44" y1="386.3" x2="409.44" y2="388.7" stroke="#000" stroke-width="1.2" stroke-linecap="butt"/>
<line x1="414.62" y1="386.3" x2="414.62" y2="388.7" stroke="#000" stroke-width="1.2" stroke-linecap="butt"/>
<line x1="419.8" y1="386.3" x2="419.8" y2="390.1" stroke="#000" stroke-width="1.2" stroke-linecap="butt"/>
<line x1="424.98" y1="386.3" x2="424.98" y2="388.7" stroke="#000" stroke-width="1.2" stroke-linecap="butt"/>
<line x1="430.16" y1="386.3" x2="430.16" y2="388.7" stroke="#000" stroke-width="1.2" stroke-linecap="butt"/>
<line x1="435.34" y1="386.3" x2="435.34" y2="388.7" stroke="#000" stroke-width="1.2" stroke-linecap="butt"/>
<line x1="440.52" y1="386.3" x2="440.52" y2="388.7" stroke="#000" stroke-width="1.2" stroke-linecap="butt"/>
<line x1="445.7" y1="386.3" x2="445.7" y2="388.7" stroke="#000" stroke-width="1.2" stroke-linecap="butt"/>
<line x1="450.88" y1="386.3" x2="450.88" y2="388.7" stroke="#000" stroke-width="1.2" stroke-linecap="butt"/>
<line x1="456.06" y1="386.3" x2="456.06" y2="388.7" stroke="#000" stroke-width="1.2" stroke-linecap="butt"/>
<line x1="461.24" y1="386.3" x2="461.24" y2="388.7" stroke="#000" stroke-width="1.2" stroke-linecap="butt"/>
<line x1="466.42" y1="386.3" x2="466.42" y2="388.7" stroke="#000" stroke-width="1.2" stroke-linecap="butt"/>
<line x1="471.6" y1="386.3" x2="471.6" y2="390.1" stroke="#000" stroke-width="1.2" stroke-linecap="butt"/>
<text x="316.2" y="398.9" font-family="Liberation Sans" font-size="8.1" font-weight="bold" fill="#1a1a1a" text-anchor="middle">0</text>
<text x="368" y="398.9" font-family="Liberation Sans" font-size="8.1" font-weight="bold" fill="#1a1a1a" text-anchor="middle">10</text>
<text x="419.8" y="398.9" font-family="Liberation Sans" font-size="8.1" font-weight="bold" fill="#1a1a1a" text-anchor="middle">20</text>
<text x="471.6" y="398.9" font-family="Liberation Sans" font-size="8.1" font-weight="bold" fill="#1a1a1a" text-anchor="middle">30</text>
<text id="D_time" x="367.71" y="414" font-family="Liberation Sans" font-size="10.369" font-weight="bold" fill="#000" textLength="54.357" lengthAdjust="spacingAndGlyphs">Time (min)</text>
<text id="D_ylab" x="292.92" y="387.35" transform="rotate(-90 292.92 387.35)" font-family="Liberation Sans" font-size="11.121" font-weight="bold" fill="#000" textLength="108.646" lengthAdjust="spacingAndGlyphs">Normalized viscosity</text>
</svg>
<div class="cl j" style="top:424.84px">Figure 1 (A) Elastic tweezograph with coagulation parameters CIT, TFCF, CT, CR and</div>
<div class="cl j" style="top:442.54px">MCS; (B) viscous tweezograph with coagulation parameters RT, FFR and MFL for control</div>
<div class="cl j" style="top:459.74px">plasma and plasma treated with aPTT-XL and CaCl<sub>2</sub> (C) elastic tweezograph, and (D)</div>
<div class="cl j" style="top:477.54px">viscous tweezograph of healthy blood plasma (black), FVIII deficient plasma (pink) and</div>
<div class="cl n" style="top:496.04px">FVIII inhibitor plasma (green) treated with aPTT-XL and CaCl<sub>2</sub></div>
</body></html>
